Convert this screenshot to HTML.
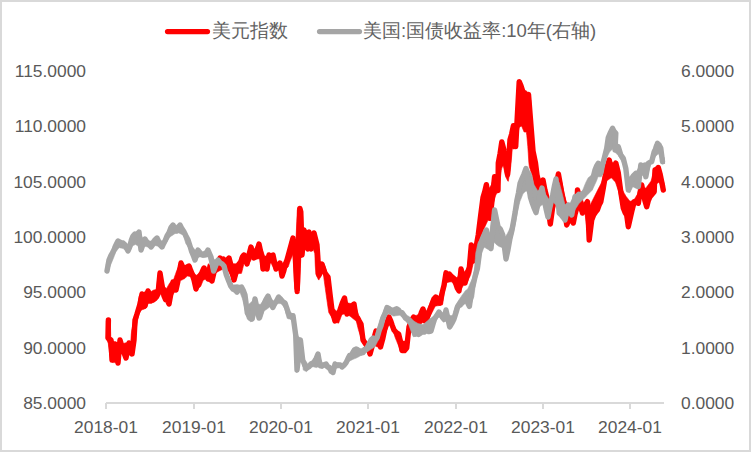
<!DOCTYPE html><html><head><meta charset="utf-8"><style>
html,body{margin:0;padding:0;background:#fff;}
#c{position:relative;width:751px;height:452px;overflow:hidden;font-family:"Liberation Sans", sans-serif;color:#595959;}
svg{position:absolute;left:0;top:0;}
.t{position:absolute;white-space:nowrap;font-size:17.4px;line-height:20px;}
.l{text-align:right;width:100px;}
.r{text-align:left;}
.x{text-align:center;width:100px;}
.lg{position:absolute;white-space:nowrap;font-size:18.5px;line-height:22px;color:#626262;}
</style></head><body><div id="c">
<svg width="751" height="452" viewBox="0 0 751 452"><rect x="1" y="1" width="749" height="450" fill="#fff" stroke="#d9d9d9" stroke-width="2"/><line x1="167.5" y1="31.6" x2="207.5" y2="31.6" stroke="#ff0000" stroke-width="5.2" stroke-linecap="round"/><line x1="319.5" y1="31.6" x2="359.5" y2="31.6" stroke="#a5a5a5" stroke-width="5.2" stroke-linecap="round"/><line x1="106" y1="403" x2="664" y2="403" stroke="#d9d9d9" stroke-width="2"/><line x1="106.00" y1="403" x2="106.00" y2="409" stroke="#d9d9d9" stroke-width="2"/><line x1="194.00" y1="403" x2="194.00" y2="409" stroke="#d9d9d9" stroke-width="2"/><line x1="281.00" y1="403" x2="281.00" y2="409" stroke="#d9d9d9" stroke-width="2"/><line x1="368.00" y1="403" x2="368.00" y2="409" stroke="#d9d9d9" stroke-width="2"/><line x1="456.00" y1="403" x2="456.00" y2="409" stroke="#d9d9d9" stroke-width="2"/><line x1="543.00" y1="403" x2="543.00" y2="409" stroke="#d9d9d9" stroke-width="2"/><line x1="630.00" y1="403" x2="630.00" y2="409" stroke="#d9d9d9" stroke-width="2"/><polygon points="106.3,320.8 106.8,320.4 107.3,319.9 107.8,319.5 108.3,319.1 108.8,319.5 109.3,319.9 109.8,320.3 110.3,320.6 110.8,337.8 111.3,338.5 111.8,339.1 112.3,339.8 112.8,340.4 113.3,341.1 113.8,341.6 114.3,342.1 114.8,342.6 115.3,343.1 115.8,343.6 116.3,343.3 116.8,343.0 117.3,342.6 117.8,342.3 118.3,342.0 118.8,341.6 119.3,341.3 119.8,340.9 120.3,340.6 120.8,340.4 121.3,341.1 121.8,341.8 122.3,342.4 122.8,343.1 123.3,343.6 123.8,343.4 124.3,343.2 124.8,343.1 125.3,342.9 125.8,342.8 126.3,342.8 126.8,342.8 127.3,342.8 127.8,342.8 128.3,342.8 128.8,342.8 129.3,342.8 129.8,342.8 130.3,342.8 130.8,341.3 131.3,334.1 131.8,329.7 132.3,327.3 132.8,324.9 133.3,322.4 133.8,319.8 134.3,317.2 134.8,314.6 135.3,313.4 135.8,312.3 136.3,311.1 136.8,310.0 137.3,308.8 137.8,305.3 138.3,301.7 138.8,298.2 139.3,295.9 139.8,295.4 140.3,294.9 140.8,294.4 141.3,293.9 141.8,293.5 142.3,293.2 142.8,292.9 143.3,292.6 143.8,292.3 144.3,292.0 144.8,291.7 145.3,291.4 145.8,291.1 146.3,290.8 146.8,290.4 147.3,290.1 147.8,289.7 148.3,289.4 148.8,289.9 149.3,290.4 149.8,291.0 150.3,291.5 150.8,291.8 151.3,291.5 151.8,291.2 152.3,290.8 152.8,290.5 153.3,290.2 153.8,290.1 154.3,289.9 154.8,289.8 155.3,289.7 155.8,289.6 156.3,289.4 156.8,286.8 157.3,282.4 157.8,278.0 158.3,274.4 158.8,274.1 159.3,273.8 159.8,273.4 160.3,273.1 160.8,273.2 161.3,275.2 161.8,277.1 162.3,279.1 162.8,281.2 163.3,283.2 163.8,285.3 164.3,286.4 164.8,286.9 165.3,287.4 165.8,287.9 166.3,288.4 166.8,288.1 167.3,287.2 167.8,286.3 168.3,285.4 168.8,284.6 169.3,283.7 169.8,282.8 170.3,282.5 170.8,282.3 171.3,282.0 171.8,281.8 172.3,281.5 172.8,281.3 173.3,280.5 173.8,279.1 174.3,277.6 174.8,276.1 175.3,274.7 175.8,273.2 176.3,271.8 176.8,270.5 177.3,269.4 177.8,268.2 178.3,267.1 178.8,266.0 179.3,264.8 179.8,263.7 180.3,263.5 180.8,263.4 181.3,263.2 181.8,263.1 182.3,262.9 182.8,263.6 183.3,264.2 183.8,264.9 184.3,265.5 184.8,266.2 185.3,266.1 185.8,266.0 186.3,265.8 186.8,265.7 187.3,265.6 187.8,265.5 188.3,265.5 188.8,265.8 189.3,266.2 189.8,266.5 190.3,266.8 190.8,267.4 191.3,268.2 191.8,269.1 192.3,270.0 192.8,270.9 193.3,271.7 193.8,272.6 194.3,273.2 194.8,273.7 195.3,274.2 195.8,274.7 196.3,275.2 196.8,275.0 197.3,274.6 197.8,274.2 198.3,273.9 198.8,273.5 199.3,273.1 199.8,272.7 200.3,272.1 200.8,271.5 201.3,270.9 201.8,270.4 202.3,269.8 202.8,269.2 203.3,268.6 203.8,269.1 204.3,269.6 204.8,270.1 205.3,270.6 205.8,271.1 206.3,269.6 206.8,268.1 207.3,266.7 207.8,265.2 208.3,263.7 208.8,264.1 209.3,264.6 209.8,265.0 210.3,265.5 210.8,265.9 211.3,266.3 211.8,266.8 212.3,267.2 212.8,266.6 213.3,265.8 213.8,265.0 214.3,264.1 214.8,263.3 215.3,262.5 215.8,261.6 216.3,261.0 216.8,260.6 217.3,260.1 217.8,259.7 218.3,259.2 218.8,258.8 219.3,258.3 219.8,257.9 220.3,258.1 220.8,258.5 221.3,258.9 221.8,259.2 222.3,259.6 222.8,260.0 223.3,260.2 223.8,260.0 224.3,259.7 224.8,259.4 225.3,259.1 225.8,258.8 226.3,258.5 226.8,258.3 227.3,258.0 227.8,257.7 228.3,257.4 228.8,257.1 229.3,257.6 229.8,258.6 230.3,259.6 230.8,260.5 231.3,261.5 231.8,262.5 232.3,263.5 232.8,263.7 233.3,263.7 233.8,263.7 234.3,263.7 234.8,263.7 235.3,263.7 235.8,263.7 236.3,263.6 236.8,263.5 237.3,263.4 237.8,263.4 238.3,263.0 238.8,261.6 239.3,260.1 239.8,258.7 240.3,257.3 240.8,255.8 241.3,254.4 241.8,254.1 242.3,253.8 242.8,253.6 243.3,253.3 243.8,253.0 244.3,253.1 244.8,253.5 245.3,253.9 245.8,254.3 246.3,254.6 246.8,255.0 247.3,255.4 247.8,254.3 248.3,253.1 248.8,252.0 249.3,250.9 249.8,249.7 250.3,248.6 250.8,248.0 251.3,248.3 251.8,248.5 252.3,248.8 252.8,249.0 253.3,249.3 253.8,249.5 254.3,249.0 254.8,248.3 255.3,247.6 255.8,246.9 256.3,246.2 256.8,245.5 257.3,244.8 257.8,244.1 258.3,244.0 258.8,244.7 259.3,245.4 259.8,246.1 260.3,246.9 260.8,247.6 261.3,248.3 261.8,249.0 262.3,249.9 262.8,251.2 263.3,252.5 263.8,253.8 264.3,255.1 264.8,256.2 265.3,256.1 265.8,255.9 266.3,255.8 266.8,255.7 267.3,255.6 267.8,255.4 268.3,255.4 268.8,255.4 269.3,255.4 269.8,255.4 270.3,255.4 270.8,255.4 271.3,255.4 271.8,255.4 272.3,255.4 272.8,255.4 273.3,256.2 273.8,257.6 274.3,259.0 274.8,260.4 275.3,261.2 275.8,261.4 276.3,261.7 276.8,261.9 277.3,262.2 277.8,262.4 278.3,262.7 278.8,262.9 279.3,263.1 279.8,263.3 280.3,263.5 280.8,263.7 281.3,263.9 281.8,264.1 282.3,264.3 282.8,263.7 283.3,263.0 283.8,262.3 284.3,261.6 284.8,260.8 285.3,260.1 285.8,259.4 286.3,257.7 286.8,256.1 287.3,254.4 287.8,252.8 288.3,251.1 288.8,248.7 289.3,246.3 289.8,243.8 290.3,241.4 290.8,239.5 291.3,239.3 291.8,239.1 292.3,238.9 292.8,238.7 293.3,238.9 293.8,240.4 294.3,241.9 294.8,243.4 295.3,244.9 295.8,243.9 296.3,232.6 296.8,221.4 297.3,210.1 297.8,207.8 298.3,207.6 298.8,207.5 299.3,207.3 299.8,207.1 300.3,207.8 300.8,208.6 301.3,209.5 301.8,210.3 302.3,211.1 302.8,219.6 303.3,227.9 303.8,228.2 304.3,228.5 304.8,228.9 305.3,229.2 305.8,229.6 306.3,230.1 306.8,230.6 307.3,231.1 307.8,231.6 308.3,232.1 308.8,232.3 309.3,232.6 309.8,232.8 310.3,233.1 310.8,233.3 311.3,233.6 311.8,233.7 312.3,233.7 312.8,233.7 313.3,233.7 313.8,233.7 314.3,234.4 314.8,235.6 315.3,236.7 315.8,237.9 316.3,239.0 316.8,241.1 317.3,243.7 317.8,246.2 318.3,249.6 318.8,254.3 319.3,258.9 319.8,263.5 320.3,263.3 320.8,263.2 321.3,263.0 321.8,262.9 322.3,262.7 322.8,263.4 323.3,264.0 323.8,264.7 324.3,265.3 324.8,266.0 325.3,267.7 325.8,269.3 326.3,271.0 326.8,272.6 327.3,274.3 327.8,276.9 328.3,280.9 328.8,284.8 329.3,288.8 329.8,292.8 330.3,295.1 330.8,297.5 331.3,299.8 331.8,302.2 332.3,304.5 332.8,306.9 333.3,308.5 333.8,308.8 334.3,309.2 334.8,309.6 335.3,310.0 335.8,310.4 336.3,310.8 336.8,311.2 337.3,311.5 337.8,311.2 338.3,310.5 338.8,309.7 339.3,309.0 339.8,308.2 340.3,307.4 340.8,306.7 341.3,305.9 341.8,305.2 342.3,303.7 342.8,302.0 343.3,300.3 343.8,298.6 344.3,297.5 344.8,298.3 345.3,299.1 345.8,300.0 346.3,300.8 346.8,301.6 347.3,302.5 347.8,302.9 348.3,303.0 348.8,303.1 349.3,303.2 349.8,303.3 350.3,303.4 350.8,303.5 351.3,303.6 351.8,303.7 352.3,303.8 352.8,303.9 353.3,304.3 353.8,305.0 354.3,305.6 354.8,306.3 355.3,307.0 355.8,307.6 356.3,308.3 356.8,309.8 357.3,311.3 357.8,312.7 358.3,314.2 358.8,315.7 359.3,317.2 359.8,318.6 360.3,320.1 360.8,321.6 361.3,324.6 361.8,327.6 362.3,330.7 362.8,333.7 363.3,335.5 363.8,336.5 364.3,337.5 364.8,338.5 365.3,339.5 365.8,340.5 366.3,341.5 366.8,341.8 367.3,342.0 367.8,342.2 368.3,342.5 368.8,342.4 369.3,342.0 369.8,341.6 370.3,341.2 370.8,340.9 371.3,340.5 371.8,340.1 372.3,339.8 372.8,339.4 373.3,338.2 373.8,336.9 374.3,335.6 374.8,334.2 375.3,332.9 375.8,331.6 376.3,330.4 376.8,329.7 377.3,329.0 377.8,328.4 378.3,327.7 378.8,327.1 379.3,326.4 379.8,325.9 380.3,325.6 380.8,325.3 381.3,325.0 381.8,324.7 382.3,324.4 382.8,324.1 383.3,323.8 383.8,323.5 384.3,323.2 384.8,322.9 385.3,322.4 385.8,321.7 386.3,321.0 386.8,320.3 387.3,319.5 387.8,318.8 388.3,318.1 388.8,317.4 389.3,317.2 389.8,317.9 390.3,318.5 390.8,319.1 391.3,319.7 391.8,320.4 392.3,321.0 392.8,322.2 393.3,323.6 393.8,325.0 394.3,326.4 394.8,327.8 395.3,329.2 395.8,330.6 396.3,332.0 396.8,332.9 397.3,333.1 397.8,333.4 398.3,333.6 398.8,333.9 399.3,334.1 399.8,334.4 400.3,335.5 400.8,336.8 401.3,338.2 401.8,339.5 402.3,340.8 402.8,341.1 403.3,341.1 403.8,341.1 404.3,341.1 404.8,341.1 405.3,341.1 405.8,340.6 406.3,338.4 406.8,336.1 407.3,333.8 407.8,331.6 408.3,329.3 408.8,327.0 409.3,325.4 409.8,324.4 410.3,323.3 410.8,322.2 411.3,321.1 411.8,320.0 412.3,318.9 412.8,317.9 413.3,316.9 413.8,316.7 414.3,316.4 414.8,316.2 415.3,315.9 415.8,315.7 416.3,315.4 416.8,315.2 417.3,314.9 417.8,314.7 418.3,314.2 418.8,313.6 419.3,312.9 419.8,312.3 420.3,311.6 420.8,310.9 421.3,310.3 421.8,309.6 422.3,309.0 422.8,308.3 423.3,308.1 423.8,308.6 424.3,309.1 424.8,309.6 425.3,310.1 425.8,310.6 426.3,311.1 426.8,310.3 427.3,309.3 427.8,308.2 428.3,307.1 428.8,306.0 429.3,304.9 429.8,303.9 430.3,302.8 430.8,301.7 431.3,300.6 431.8,299.6 432.3,298.7 432.8,298.5 433.3,298.4 433.8,298.2 434.3,298.0 434.8,297.9 435.3,297.7 435.8,297.6 436.3,298.0 436.8,298.7 437.3,299.5 437.8,300.3 438.3,301.0 438.8,300.7 439.3,298.6 439.8,296.5 440.3,294.4 440.8,292.4 441.3,290.3 441.8,288.2 442.3,286.1 442.8,284.1 443.3,282.2 443.8,280.3 444.3,278.4 444.8,276.5 445.3,274.6 445.8,272.7 446.3,272.6 446.8,273.0 447.3,273.3 447.8,273.7 448.3,274.1 448.8,274.3 449.3,274.4 449.8,274.5 450.3,274.6 450.8,274.7 451.3,274.8 451.8,274.9 452.3,275.4 452.8,276.0 453.3,276.7 453.8,277.3 454.3,277.9 454.8,278.2 455.3,278.0 455.8,277.8 456.3,277.6 456.8,277.4 457.3,277.2 457.8,276.9 458.3,275.7 458.8,274.2 459.3,272.7 459.8,271.3 460.3,269.8 460.8,268.7 461.3,269.3 461.8,269.8 462.3,270.3 462.8,270.9 463.3,271.4 463.8,272.0 464.3,272.0 464.8,271.3 465.3,270.7 465.8,270.0 466.3,269.3 466.8,268.6 467.3,267.9 467.8,264.6 468.3,260.6 468.8,256.7 469.3,252.7 469.8,248.7 470.3,247.3 470.8,246.5 471.3,245.7 471.8,245.8 472.3,246.5 472.8,247.1 473.3,247.8 473.8,248.4 474.3,247.9 474.8,246.7 475.3,245.4 475.8,244.2 476.3,242.9 476.8,241.7 477.3,240.4 477.8,239.2 478.3,238.1 478.8,236.9 479.3,235.8 479.8,234.6 480.3,227.0 480.8,219.4 481.3,212.6 481.8,206.8 482.3,201.1 482.8,195.3 483.3,193.5 483.8,191.7 484.3,189.9 484.8,188.1 485.3,186.3 485.8,184.5 486.3,185.5 486.8,186.5 487.3,187.5 487.8,188.5 488.3,189.5 488.8,188.7 489.3,188.0 489.8,187.2 490.3,186.5 490.8,185.7 491.3,185.0 491.8,183.8 492.3,182.2 492.8,180.5 493.3,178.9 493.8,177.2 494.3,176.3 494.8,176.7 495.3,177.0 495.8,177.3 496.3,177.7 496.8,172.6 497.3,163.9 497.8,161.7 498.3,159.4 498.8,157.2 499.3,154.3 499.8,151.1 500.3,147.8 500.8,144.5 501.3,143.1 501.8,142.8 502.3,142.5 502.8,142.3 503.3,142.0 503.8,144.4 504.3,147.5 504.8,150.5 505.3,153.6 505.8,156.6 506.3,154.3 506.8,152.0 507.3,149.7 507.8,147.4 508.3,145.1 508.8,142.8 509.3,140.5 509.8,138.4 510.3,136.4 510.8,134.3 511.3,132.3 511.8,130.3 512.3,128.2 512.8,126.2 513.3,124.9 513.8,124.6 514.3,124.4 514.8,124.1 515.3,123.8 515.8,118.7 516.3,110.5 516.8,102.2 517.3,94.0 517.8,85.7 518.3,82.3 518.8,82.0 519.3,81.8 519.8,81.5 520.3,81.3 520.8,82.6 521.3,84.4 521.8,86.2 522.3,87.9 522.8,89.7 523.3,89.9 523.8,90.0 524.3,90.2 524.8,90.3 525.3,90.5 525.8,90.7 526.3,90.8 526.8,91.3 527.3,92.1 527.8,92.8 528.3,93.6 528.8,94.3 529.3,95.8 529.8,97.4 530.3,99.0 530.8,100.7 531.3,110.3 531.8,125.3 532.3,140.3 532.8,149.7 533.3,150.7 533.8,151.7 534.3,152.8 534.8,153.8 535.3,156.3 535.8,159.9 536.3,163.4 536.8,166.9 537.3,170.5 537.8,172.3 538.3,173.7 538.8,175.2 539.3,176.6 539.8,178.0 540.3,179.4 540.8,180.8 541.3,180.7 541.8,180.6 542.3,180.6 542.8,180.5 543.3,180.4 543.8,182.0 544.3,183.7 544.8,185.3 545.3,187.0 545.8,188.6 546.3,190.2 546.8,191.7 547.3,193.2 547.8,194.7 548.3,196.2 548.8,197.7 549.3,199.2 549.8,200.7 550.3,199.8 550.8,197.4 551.3,194.9 551.8,192.5 552.3,190.0 552.8,187.6 553.3,185.1 553.8,182.7 554.3,180.8 554.8,179.8 555.3,178.8 555.8,177.8 556.3,176.8 556.8,175.8 557.3,174.8 557.8,174.7 558.3,174.9 558.8,175.0 559.3,175.2 559.8,175.4 560.3,176.9 560.8,178.8 561.3,180.7 561.8,182.5 562.3,184.6 562.8,186.9 563.3,189.1 563.8,191.4 564.3,193.6 564.8,195.9 565.3,198.1 565.8,200.4 566.3,201.7 566.8,202.3 567.3,202.9 567.8,203.5 568.3,204.2 568.8,204.8 569.3,205.4 569.8,206.0 570.3,205.6 570.8,204.3 571.3,203.1 571.8,201.9 572.3,200.6 572.8,199.4 573.3,198.2 573.8,197.0 574.3,195.7 574.8,194.5 575.3,193.7 575.8,192.8 576.3,192.0 576.8,191.1 577.3,190.3 577.8,190.6 578.3,191.0 578.8,191.3 579.3,191.7 579.8,192.0 580.3,193.5 580.8,194.9 581.3,196.4 581.8,197.8 582.3,199.3 582.8,200.7 583.3,202.0 583.8,203.3 584.3,204.5 584.8,205.8 585.3,207.0 585.8,208.3 586.3,209.5 586.8,210.8 587.3,210.7 587.8,209.7 588.3,208.7 588.8,207.7 589.3,206.7 589.8,205.7 590.3,204.7 590.8,203.7 591.3,202.7 591.8,201.7 592.3,200.7 592.8,199.7 593.3,198.7 593.8,197.7 594.3,196.7 594.8,195.7 595.3,194.8 595.8,193.8 596.3,192.8 596.8,191.8 597.3,190.8 597.8,189.8 598.3,188.8 598.8,187.8 599.3,186.9 599.8,185.9 600.3,184.9 600.8,183.9 601.3,182.9 601.8,181.3 602.3,179.4 602.8,177.6 603.3,175.8 603.8,174.0 604.3,172.2 604.8,170.5 605.3,169.2 605.8,167.8 606.3,166.4 606.8,165.0 607.3,163.6 607.8,162.3 608.3,160.9 608.8,159.5 609.3,160.0 609.8,160.5 610.3,161.0 610.8,161.5 611.3,162.0 611.8,162.2 612.3,162.5 612.8,162.7 613.3,163.0 613.8,163.2 614.3,163.5 614.8,164.2 615.3,165.7 615.8,167.2 616.3,168.7 616.8,170.2 617.3,171.8 617.8,173.4 618.3,175.1 618.8,176.7 619.3,178.4 619.8,180.1 620.3,181.9 620.8,183.6 621.3,185.4 621.8,187.1 622.3,188.9 622.8,190.6 623.3,191.7 623.8,192.5 624.3,193.4 624.8,194.2 625.3,195.1 625.8,196.0 626.3,196.7 626.8,197.3 627.3,197.9 627.8,198.5 628.3,199.2 628.8,199.8 629.3,200.4 629.8,201.0 630.3,201.2 630.8,201.1 631.3,200.9 631.8,200.8 632.3,200.7 632.8,200.5 633.3,200.4 633.8,200.1 634.3,199.3 634.8,198.5 635.3,197.7 635.8,196.9 636.3,196.1 636.8,195.3 637.3,194.5 637.8,193.7 638.3,191.7 638.8,189.7 639.3,187.7 639.8,185.7 640.3,183.7 640.8,184.9 641.3,186.0 641.8,187.2 642.3,188.3 642.8,189.5 643.3,189.2 643.8,189.0 644.3,188.7 644.8,188.4 645.3,188.1 645.8,187.9 646.3,187.4 646.8,186.8 647.3,186.1 647.8,185.4 648.3,184.8 648.8,184.1 649.3,183.4 649.8,182.7 650.3,182.1 650.8,181.4 651.3,180.2 651.8,178.2 652.3,176.2 652.8,174.2 653.3,172.2 653.8,170.2 654.3,168.2 654.8,167.6 655.3,167.4 655.8,167.2 656.3,167.0 656.8,166.8 657.3,166.6 657.8,166.4 658.3,166.2 658.8,166.8 659.3,168.5 659.8,170.2 660.3,172.0 660.8,173.7 661.3,175.2 661.8,176.6 662.3,178.0 662.8,179.4 663.3,180.7 663.8,182.4 664.3,184.2 664.6,185.3 664.6,186.7 664.3,186.9 663.8,187.3 663.3,187.6 662.8,188.0 662.3,188.3 661.8,188.3 661.3,187.0 660.8,185.7 660.3,184.4 659.8,183.1 659.3,182.1 658.8,182.4 658.3,182.7 657.8,183.0 657.3,183.3 656.8,183.8 656.3,184.8 655.8,185.8 655.3,186.8 654.8,187.9 654.3,188.9 653.8,189.9 653.3,190.9 652.8,191.9 652.3,193.1 651.8,194.3 651.3,195.6 650.8,196.8 650.3,198.0 649.8,199.2 649.3,200.5 648.8,201.8 648.3,203.1 647.8,204.5 647.3,205.8 646.8,206.8 646.3,206.3 645.8,205.8 645.3,205.2 644.8,204.7 644.3,203.9 643.8,202.5 643.3,201.2 642.8,199.8 642.3,198.4 641.8,197.1 641.3,195.7 640.8,196.0 640.3,197.4 639.8,198.8 639.3,200.2 638.8,201.6 638.3,202.2 637.8,202.6 637.3,202.9 636.8,203.3 636.3,203.7 635.8,204.0 635.3,204.4 634.8,205.8 634.3,207.2 633.8,208.5 633.3,209.9 632.8,211.3 632.3,212.7 631.8,214.4 631.3,216.7 630.8,219.1 630.3,221.4 629.8,223.7 629.3,225.1 628.8,225.1 628.3,225.1 627.8,225.1 627.3,225.1 626.8,224.2 626.3,221.9 625.8,219.5 625.3,217.2 624.8,214.9 624.3,212.9 623.8,211.4 623.3,209.9 622.8,208.3 622.3,206.8 621.8,205.3 621.3,203.8 620.8,201.6 620.3,199.3 619.8,197.0 619.3,194.7 618.8,192.4 618.3,190.7 617.8,189.2 617.3,187.7 616.8,186.2 616.3,184.7 615.8,183.2 615.3,181.9 614.8,181.4 614.3,180.9 613.8,180.4 613.3,179.8 612.8,179.3 612.3,178.8 611.8,178.3 611.3,177.8 610.8,178.1 610.3,178.5 609.8,178.8 609.3,179.1 608.8,179.4 608.3,179.8 607.8,180.1 607.3,180.4 606.8,180.8 606.3,181.1 605.8,182.6 605.3,184.1 604.8,185.6 604.3,187.1 603.8,188.6 603.3,191.3 602.8,193.9 602.3,196.6 601.8,199.2 601.3,201.9 600.8,202.5 600.3,203.1 599.8,203.7 599.3,204.3 598.8,204.9 598.3,205.5 597.8,206.1 597.3,206.7 596.8,208.3 596.3,210.1 595.8,211.9 595.3,213.7 594.8,215.5 594.3,217.3 593.8,219.2 593.3,221.0 592.8,223.1 592.3,225.4 591.8,227.8 591.3,230.1 590.8,232.5 590.3,233.2 589.8,233.0 589.3,232.7 588.8,232.5 588.3,232.2 587.8,232.0 587.3,231.7 586.8,227.7 586.3,223.7 585.8,219.8 585.3,215.8 584.8,211.8 584.3,212.1 583.8,212.5 583.3,212.8 582.8,213.2 582.3,213.5 581.8,213.1 581.3,212.6 580.8,212.2 580.3,211.8 579.8,211.3 579.3,210.9 578.8,210.5 578.3,210.1 577.8,209.6 577.3,209.2 576.8,208.8 576.3,209.7 575.8,212.7 575.3,215.7 574.8,218.6 574.3,221.6 573.8,223.3 573.3,223.1 572.8,222.9 572.3,222.7 571.8,222.5 571.3,222.3 570.8,222.1 570.3,221.9 569.8,221.7 569.3,222.5 568.8,223.2 568.3,224.0 567.8,224.7 567.3,225.5 566.8,226.2 566.3,225.7 565.8,223.1 565.3,220.6 564.8,218.0 564.3,215.5 563.8,212.9 563.3,210.3 562.8,207.8 562.3,205.2 561.8,203.7 561.3,203.7 560.8,203.7 560.3,203.7 559.8,203.7 559.3,203.7 558.8,203.7 558.3,203.7 557.8,203.7 557.3,203.7 556.8,203.7 556.3,203.7 555.8,204.4 555.3,206.0 554.8,207.7 554.3,209.4 553.8,211.1 553.3,212.7 552.8,214.4 552.3,216.1 551.8,217.7 551.3,219.6 550.8,221.6 550.3,223.5 549.8,224.8 549.3,223.1 548.8,221.4 548.3,219.7 547.8,218.1 547.3,216.4 546.8,214.7 546.3,213.1 545.8,211.4 545.3,209.7 544.8,207.9 544.3,206.0 543.8,204.1 543.3,202.2 542.8,200.3 542.3,198.4 541.8,196.5 541.3,194.6 540.8,192.7 540.3,190.8 539.8,188.9 539.3,189.4 538.8,190.5 538.3,191.7 537.8,192.8 537.3,193.7 536.8,193.6 536.3,193.6 535.8,193.6 535.3,193.5 534.8,192.1 534.3,188.6 533.8,185.1 533.3,181.6 532.8,178.1 532.3,175.8 531.8,174.3 531.3,172.7 530.8,171.2 530.3,169.7 529.8,168.1 529.3,166.6 528.8,162.3 528.3,153.8 527.8,146.5 527.3,141.0 526.8,135.4 526.3,132.1 525.8,132.1 525.3,132.1 524.8,132.1 524.3,132.1 523.8,131.4 523.3,130.1 522.8,128.9 522.3,127.7 521.8,126.5 521.3,126.2 520.8,126.4 520.3,126.7 519.8,126.9 519.3,127.2 518.8,129.2 518.3,131.8 517.8,134.3 517.3,136.9 516.8,139.4 516.3,141.3 515.8,143.3 515.3,145.2 514.8,147.2 514.3,149.1 513.8,149.0 513.3,148.9 512.8,148.8 512.3,148.7 511.8,154.4 511.3,160.1 510.8,165.9 510.3,169.4 509.8,172.4 509.3,175.3 508.8,178.3 508.3,181.3 507.8,181.1 507.3,180.1 506.8,179.1 506.3,178.1 505.8,177.1 505.3,175.0 504.8,172.7 504.3,170.4 503.8,168.1 503.3,165.8 502.8,166.1 502.3,167.0 501.8,168.0 501.3,170.3 500.8,174.6 500.3,179.0 499.8,183.3 499.3,187.6 498.8,190.5 498.3,191.3 497.8,192.0 497.3,192.8 496.8,193.5 496.3,194.3 495.8,195.0 495.3,196.5 494.8,198.2 494.3,199.9 493.8,201.5 493.3,203.2 492.8,206.0 492.3,208.7 491.8,211.5 491.3,214.3 490.8,217.1 490.3,219.8 489.8,220.3 489.3,220.2 488.8,220.1 488.3,220.0 487.8,220.6 487.3,221.7 486.8,222.8 486.3,223.8 485.8,224.9 485.3,225.9 484.8,227.0 484.3,228.1 483.8,229.3 483.3,230.6 482.8,232.0 482.3,233.4 481.8,234.8 481.3,236.2 480.8,237.4 480.3,238.6 479.8,239.8 479.3,241.0 478.8,242.2 478.3,243.4 477.8,244.7 477.3,246.0 476.8,247.3 476.3,248.7 475.8,250.0 475.3,251.4 474.8,252.7 474.3,256.1 473.8,259.4 473.3,262.8 472.8,265.3 472.3,267.5 471.8,269.8 471.3,272.0 470.8,274.3 470.3,275.6 469.8,276.7 469.3,277.7 468.8,278.8 468.3,279.9 467.8,281.0 467.3,282.1 466.8,282.4 466.3,282.7 465.8,283.1 465.3,283.4 464.8,283.7 464.3,284.0 463.8,284.6 463.3,285.5 462.8,286.5 462.3,287.4 461.8,288.4 461.3,289.4 460.8,290.3 460.3,290.9 459.8,291.2 459.3,291.5 458.8,291.8 458.3,292.1 457.8,291.6 457.3,290.5 456.8,289.4 456.3,288.4 455.8,287.3 455.3,286.3 454.8,285.2 454.3,284.7 453.8,284.2 453.3,283.7 452.8,283.1 452.3,282.6 451.8,282.1 451.3,281.7 450.8,281.8 450.3,281.9 449.8,282.0 449.3,282.1 448.8,282.2 448.3,282.3 447.8,282.4 447.3,282.6 446.8,282.7 446.3,283.8 445.8,285.7 445.3,287.6 444.8,289.5 444.3,292.5 443.8,296.1 443.3,299.8 442.8,303.4 442.3,305.0 441.8,305.0 441.3,305.1 440.8,305.2 440.3,305.3 439.8,305.4 439.3,305.5 438.8,305.6 438.3,305.7 437.8,305.8 437.3,305.8 436.8,305.9 436.3,306.0 435.8,306.1 435.3,306.2 434.8,307.2 434.3,308.1 433.8,309.1 433.3,310.1 432.8,311.1 432.3,312.0 431.8,313.0 431.3,314.0 430.8,315.0 430.3,315.9 429.8,316.9 429.3,317.7 428.8,318.5 428.3,319.3 427.8,320.0 427.3,320.8 426.8,321.6 426.3,322.4 425.8,323.2 425.3,323.4 424.8,323.3 424.3,323.2 423.8,323.1 423.3,322.9 422.8,322.8 422.3,322.7 421.8,323.2 421.3,323.7 420.8,324.2 420.3,324.7 419.8,325.2 419.3,325.7 418.8,326.2 418.3,326.7 417.8,327.2 417.3,327.7 416.8,328.1 416.3,328.5 415.8,328.9 415.3,329.2 414.8,329.6 414.3,330.0 413.8,330.4 413.3,330.8 412.8,331.2 412.3,331.6 411.8,332.0 411.3,332.3 410.8,332.7 410.3,333.1 409.8,333.5 409.3,336.6 408.8,339.7 408.3,342.8 407.8,345.9 407.3,348.5 406.8,348.9 406.3,349.3 405.8,349.7 405.3,350.0 404.8,350.4 404.3,350.8 403.8,351.2 403.3,351.6 402.8,351.4 402.3,351.0 401.8,350.6 401.3,350.3 400.8,349.9 400.3,349.5 399.8,349.0 399.3,347.7 398.8,346.5 398.3,345.2 397.8,344.0 397.3,342.8 396.8,341.5 396.3,340.3 395.8,339.0 395.3,337.8 394.8,336.4 394.3,334.7 393.8,332.9 393.3,331.2 392.8,329.4 392.3,327.7 391.8,325.9 391.3,325.2 390.8,325.2 390.3,325.2 389.8,325.2 389.3,325.2 388.8,325.2 388.3,325.2 387.8,326.7 387.3,328.2 386.8,329.7 386.3,331.2 385.8,332.7 385.3,334.2 384.8,335.8 384.3,337.7 383.8,339.5 383.3,341.3 382.8,343.2 382.3,345.0 381.8,346.9 381.3,347.5 380.8,347.5 380.3,347.4 379.8,347.3 379.3,347.2 378.8,347.1 378.3,347.0 377.8,346.9 377.3,346.8 376.8,346.7 376.3,346.5 375.8,346.3 375.3,346.1 374.8,345.9 374.3,345.7 373.8,346.0 373.3,347.0 372.8,348.0 372.3,349.0 371.8,350.0 371.3,351.0 370.8,352.0 370.3,353.0 369.8,354.0 369.3,354.1 368.8,353.6 368.3,353.1 367.8,352.6 367.3,352.0 366.8,351.0 366.3,350.0 365.8,349.0 365.3,348.0 364.8,346.9 364.3,345.9 363.8,344.9 363.3,343.9 362.8,342.7 362.3,341.2 361.8,339.8 361.3,338.3 360.8,336.8 360.3,335.4 359.8,333.9 359.3,332.4 358.8,331.0 358.3,329.3 357.8,327.3 357.3,325.2 356.8,323.2 356.3,321.2 355.8,320.8 355.3,320.4 354.8,320.0 354.3,319.6 353.8,319.2 353.3,318.8 352.8,318.4 352.3,318.0 351.8,317.6 351.3,317.2 350.8,316.8 350.3,316.4 349.8,316.1 349.3,315.7 348.8,315.3 348.3,314.9 347.8,314.6 347.3,314.2 346.8,313.8 346.3,313.5 345.8,313.6 345.3,313.8 344.8,313.9 344.3,314.0 343.8,314.1 343.3,314.3 342.8,314.4 342.3,314.5 341.8,314.9 341.3,316.2 340.8,317.5 340.3,318.9 339.8,320.2 339.3,321.5 338.8,322.9 338.3,323.2 337.8,323.0 337.3,322.8 336.8,322.5 336.3,322.2 335.8,322.0 335.3,321.8 334.8,321.5 334.3,321.2 333.8,320.6 333.3,319.8 332.8,319.0 332.3,318.2 331.8,317.4 331.3,316.6 330.8,315.8 330.3,315.0 329.8,314.2 329.3,313.4 328.8,312.6 328.3,309.6 327.8,306.2 327.3,302.7 326.8,299.2 326.3,295.8 325.8,292.2 325.3,288.6 324.8,284.9 324.3,281.3 323.8,277.6 323.3,274.0 322.8,273.0 322.3,273.9 321.8,274.8 321.3,275.7 320.8,276.6 320.3,277.5 319.8,278.3 319.3,279.2 318.8,280.1 318.3,279.4 317.8,278.4 317.3,277.3 316.8,276.3 316.3,275.2 315.8,274.1 315.3,266.1 314.8,253.5 314.3,252.2 313.8,250.8 313.3,249.5 312.8,248.1 312.3,246.8 311.8,247.1 311.3,247.5 310.8,247.8 310.3,248.2 309.8,248.5 309.3,248.7 308.8,248.8 308.3,249.0 307.8,249.1 307.3,249.3 306.8,249.5 306.3,249.6 305.8,249.8 305.3,249.9 304.8,250.1 304.3,251.7 303.8,253.2 303.3,254.8 302.8,255.6 302.3,256.3 301.8,256.9 301.3,257.6 300.8,258.3 300.3,268.5 299.8,281.1 299.3,289.1 298.8,290.1 298.3,291.2 297.8,292.2 297.3,293.2 296.8,292.4 296.3,291.5 295.8,290.7 295.3,289.9 294.8,289.0 294.3,281.2 293.8,268.6 293.3,256.0 292.8,254.5 292.3,255.7 291.8,257.0 291.3,258.2 290.8,259.5 290.3,260.7 289.8,262.0 289.3,263.6 288.8,265.1 288.3,266.7 287.8,267.2 287.3,267.7 286.8,268.2 286.3,268.6 285.8,269.1 285.3,269.6 284.8,270.0 284.3,270.2 283.8,270.5 283.3,270.7 282.8,270.9 282.3,271.1 281.8,271.3 281.3,271.5 280.8,271.7 280.3,271.3 279.8,270.9 279.3,270.5 278.8,270.1 278.3,269.7 277.8,269.3 277.3,268.9 276.8,268.6 276.3,268.4 275.8,268.4 275.3,268.4 274.8,268.5 274.3,268.5 273.8,268.5 273.3,267.5 272.8,266.5 272.3,265.5 271.8,264.5 271.3,263.5 270.8,263.3 270.3,263.0 269.8,262.8 269.3,262.5 268.8,262.3 268.3,262.0 267.8,262.5 267.3,264.0 266.8,265.5 266.3,266.9 265.8,268.4 265.3,269.3 264.8,269.2 264.3,269.1 263.8,269.0 263.3,268.9 262.8,268.8 262.3,268.7 261.8,268.6 261.3,267.9 260.8,265.0 260.3,262.1 259.8,259.2 259.3,258.7 258.8,258.8 258.3,258.9 257.8,259.0 257.3,259.1 256.8,259.2 256.3,259.3 255.8,259.4 255.3,259.2 254.8,259.0 254.3,258.7 253.8,258.5 253.3,258.2 252.8,258.0 252.3,257.7 251.8,258.6 251.3,259.5 250.8,260.4 250.3,261.3 249.8,262.2 249.3,263.1 248.8,263.9 248.3,264.8 247.8,265.1 247.3,264.9 246.8,264.7 246.3,264.5 245.8,264.2 245.3,264.0 244.8,263.8 244.3,263.6 243.8,264.3 243.3,266.3 242.8,268.3 242.3,270.3 241.8,272.3 241.3,273.5 240.8,273.5 240.3,273.5 239.8,273.5 239.3,273.5 238.8,273.5 238.3,273.5 237.8,274.3 237.3,275.3 236.8,276.3 236.3,277.3 235.8,278.2 235.3,279.2 234.8,280.2 234.3,281.2 233.8,281.4 233.3,280.5 232.8,279.6 232.3,278.7 231.8,277.7 231.3,276.8 230.8,275.9 230.3,275.0 229.8,274.0 229.3,273.1 228.8,272.2 228.3,271.3 227.8,270.6 227.3,270.3 226.8,270.1 226.3,269.8 225.8,269.6 225.3,269.3 224.8,269.1 224.3,268.8 223.8,268.8 223.3,269.0 222.8,269.3 222.3,269.5 221.8,269.7 221.3,270.0 220.8,270.2 220.3,270.4 219.8,270.7 219.3,270.9 218.8,271.2 218.3,271.5 217.8,271.8 217.3,272.1 216.8,272.4 216.3,272.7 215.8,273.0 215.3,273.3 214.8,273.8 214.3,275.5 213.8,277.2 213.3,278.8 212.8,280.5 212.3,281.7 211.8,281.4 211.3,281.1 210.8,280.7 210.3,280.4 209.8,280.0 209.3,279.7 208.8,279.4 208.3,279.0 207.8,278.7 207.3,278.6 206.8,278.8 206.3,279.0 205.8,279.1 205.3,279.3 204.8,279.5 204.3,279.7 203.8,279.9 203.3,280.1 202.8,281.3 202.3,282.5 201.8,283.7 201.3,284.9 200.8,286.1 200.3,286.9 199.8,287.3 199.3,287.6 198.8,288.0 198.3,288.3 197.8,288.6 197.3,288.9 196.8,289.3 196.3,289.6 195.8,289.9 195.3,289.1 194.8,286.5 194.3,283.9 193.8,281.6 193.3,280.6 192.8,279.6 192.3,278.7 191.8,277.7 191.3,276.9 190.8,276.8 190.3,276.7 189.8,276.6 189.3,276.4 188.8,276.3 188.3,276.2 187.8,276.1 187.3,276.0 186.8,276.4 186.3,276.9 185.8,277.5 185.3,278.0 184.8,278.5 184.3,278.8 183.8,279.0 183.3,279.2 182.8,279.5 182.3,279.8 181.8,280.0 181.3,280.2 180.8,280.2 180.3,280.2 179.8,280.2 179.3,280.2 178.8,280.2 178.3,280.2 177.8,281.3 177.3,283.0 176.8,284.8 176.3,286.5 175.8,288.3 175.3,290.0 174.8,291.8 174.3,292.5 173.8,293.3 173.3,294.0 172.8,294.8 172.3,295.5 171.8,296.3 171.3,297.3 170.8,298.8 170.3,300.3 169.8,301.8 169.3,303.3 168.8,303.8 168.3,303.0 167.8,302.1 167.3,301.2 166.8,300.3 166.3,299.5 165.8,298.6 165.3,298.1 164.8,297.8 164.3,297.4 163.8,297.1 163.3,296.8 162.8,296.2 162.3,295.5 161.8,294.9 161.3,294.3 160.8,293.6 160.3,294.0 159.8,294.7 159.3,295.3 158.8,295.9 158.3,296.6 157.8,297.2 157.3,297.8 156.8,298.5 156.3,299.1 155.8,299.8 155.3,300.4 154.8,301.0 154.3,301.4 153.8,301.7 153.3,302.1 152.8,302.5 152.3,302.9 151.8,303.2 151.3,303.4 150.8,303.4 150.3,303.4 149.8,303.4 149.3,303.4 148.8,303.4 148.3,303.4 147.8,304.4 147.3,305.4 146.8,306.4 146.3,307.4 145.8,308.4 145.3,308.6 144.8,308.8 144.3,309.0 143.8,309.2 143.3,309.4 142.8,309.5 142.3,309.7 141.8,309.9 141.3,310.4 140.8,311.1 140.3,311.8 139.8,312.6 139.3,313.3 138.8,314.6 138.3,317.0 137.8,319.3 137.3,321.9 136.8,325.1 136.3,328.2 135.8,331.3 135.3,335.8 134.8,340.7 134.3,345.6 133.8,349.2 133.3,351.0 132.8,352.8 132.3,354.3 131.8,354.4 131.3,354.6 130.8,354.7 130.3,354.8 129.8,354.9 129.3,355.0 128.8,355.4 128.3,356.0 127.8,356.7 127.3,357.3 126.8,358.0 126.3,358.0 125.8,357.0 125.3,356.0 124.8,355.1 124.3,354.1 123.8,353.5 123.3,353.5 122.8,353.5 122.3,353.5 121.8,353.5 121.3,353.5 120.8,353.5 120.3,355.4 119.8,357.8 119.3,360.3 118.8,361.9 118.3,362.4 117.8,363.0 117.3,363.3 116.8,363.1 116.3,362.8 115.8,362.6 115.3,362.6 114.8,362.6 114.3,362.6 113.8,362.6 113.3,362.6 112.8,362.6 112.3,362.4 111.8,361.1 111.3,359.9 110.8,358.7 110.3,357.4 109.8,355.1 109.3,351.3 108.8,347.4 108.3,343.5 107.8,342.2 107.3,341.0 106.8,339.8 106.3,338.5" fill="#ff0000" stroke="#ff0000" stroke-width="0.6" stroke-linejoin="round"/><polyline points="108.4,320.0 108.0,338.0 111.0,340.0 112.0,360.0 115.0,344.0 118.0,363.0 120.0,340.0 123.0,350.0 126.0,358.0 129.0,343.0 132.0,354.0 134.0,340.0 135.0,320.0 137.0,314.0 140.0,304.0 142.0,294.0 145.0,306.0 148.0,291.0 149.7,294.3 151.3,297.7 153.0,300.0 154.7,298.8 156.3,297.2 158.0,294.0 160.0,273.0 162.0,285.2 164.0,296.0 165.7,299.8 167.3,300.0 169.0,304.0 171.0,292.9 173.0,282.0 176.0,290.0 177.7,282.2 179.3,272.4 181.0,263.0 183.0,267.6 185.0,270.0 187.0,266.9 189.0,266.0 190.7,270.6 192.3,274.6 194.0,280.0 196.0,289.0 198.0,282.6 200.0,276.0 202.0,272.2 204.0,268.0 206.0,272.1 208.0,279.0 210.0,279.2 212.0,281.0 215.0,268.0 216.7,264.0 218.3,262.5 220.0,258.0 221.7,259.7 223.3,259.0 225.0,261.0 227.0,260.3 229.0,258.0 230.7,264.3 232.3,273.0 234.0,280.0 235.7,273.6 237.3,267.9 239.0,264.0 240.7,262.0 242.3,257.2 244.0,255.0 247.0,264.0 249.0,254.7 251.0,247.0 254.0,258.0 255.7,254.7 257.3,249.7 259.0,244.0 262.0,258.0 263.0,269.0 265.0,268.4 267.0,269.0 269.0,255.0 271.0,256.3 273.0,255.0 276.0,269.0 278.0,266.1 280.0,263.0 282.0,276.0 283.7,271.2 285.3,264.5 287.0,260.0 290.0,249.0 293.0,238.0 295.0,252.0 297.2,291.5 299.9,208.5 300.8,212.0 302.0,255.0 304.0,230.0 306.0,240.7 308.0,249.0 309.0,232.0 311.0,249.0 314.0,233.0 317.0,245.0 319.0,275.0 322.0,264.0 325.0,273.0 328.0,277.0 330.0,294.0 332.0,310.0 335.0,321.0 336.7,318.6 338.3,314.8 340.0,310.0 342.2,303.4 344.5,298.0 347.0,314.0 348.8,311.1 350.5,308.1 352.2,305.5 354.0,304.0 356.0,317.0 357.7,318.1 359.3,321.1 361.0,324.0 363.0,340.0 364.8,342.8 366.6,345.0 368.3,348.1 370.0,354.0 372.0,346.8 374.0,338.2 376.0,331.0 378.2,338.5 380.5,347.0 382.6,339.4 384.6,330.0 386.8,323.4 389.0,317.0 390.7,320.8 392.3,325.6 394.0,330.0 396.3,332.6 398.6,334.0 400.3,341.0 402.0,350.5 404.4,350.6 406.7,348.0 409.0,327.0 411.4,320.7 413.7,317.0 415.9,321.2 418.0,324.0 419.7,320.0 421.3,312.7 423.0,309.0 424.7,315.3 426.4,320.0 428.3,314.3 430.1,309.6 432.0,304.0 433.9,299.1 435.7,297.0 437.9,298.7 440.0,303.0 442.0,293.4 444.0,285.5 446.0,272.8 447.7,275.1 449.3,274.1 451.0,276.0 454.0,278.6 455.7,283.4 457.3,288.1 459.0,291.0 461.0,269.0 463.0,277.2 465.0,283.0 467.2,274.6 469.4,267.0 471.3,245.0 473.0,261.0 474.8,254.0 476.6,243.9 478.3,234.7 480.6,216.2 483.0,197.5 484.7,191.9 486.4,184.7 488.2,200.5 490.0,218.4 492.3,198.2 494.6,176.6 496.3,184.4 498.0,190.5 498.3,163.0 500.1,153.5 501.8,142.0 503.6,148.7 505.3,158.0 507.6,174.5 510.0,139.7 511.7,133.9 513.4,125.7 515.7,146.6 517.5,113.0 519.2,81.6 521.0,85.9 522.7,91.0 524.5,109.8 526.2,128.0 528.5,94.4 530.8,123.4 533.0,151.0 535.5,163.0 537.0,175.0 540.0,188.0 543.0,180.0 544.9,189.9 546.8,197.5 548.5,210.3 550.3,224.0 552.0,211.9 553.8,197.5 556.1,185.9 558.4,174.0 560.2,184.0 562.0,195.0 564.0,203.0 566.7,225.0 568.4,221.0 570.0,218.0 571.6,219.6 573.3,223.0 575.0,214.3 576.7,208.0 577.5,190.0 579.2,196.7 580.8,205.9 582.5,213.0 584.2,210.6 585.8,204.5 587.5,201.7 589.2,240.0 591.7,220.0 593.8,214.6 595.8,211.7 597.5,209.7 599.1,205.1 600.8,201.7 603.3,188.0 605.0,177.7 606.7,168.0 609.2,160.0 610.9,166.8 612.5,175.0 614.1,169.3 615.8,163.0 618.3,173.0 620.8,192.0 623.3,208.0 625.0,212.4 626.7,215.0 628.3,226.7 630.0,219.1 631.7,211.7 634.2,201.7 636.2,202.3 638.3,203.3 640.0,192.9 641.7,185.0 643.3,193.0 645.0,201.0 646.7,206.7 648.4,200.4 650.0,196.7 652.1,194.2 654.2,191.7 655.0,170.0 656.6,169.7 658.3,167.5 660.0,173.6 661.7,181.7 663.3,190.0" fill="none" stroke="#ff0000" stroke-width="5.4" stroke-linejoin="round" stroke-linecap="round"/><polygon points="106.3,264.4 106.8,263.4 107.3,262.4 107.8,261.3 108.3,260.3 108.8,258.9 109.3,257.5 109.8,256.1 110.3,254.7 110.8,253.3 111.3,251.9 111.8,250.4 112.3,248.7 112.8,247.0 113.3,245.3 113.8,244.7 114.3,244.1 114.8,243.5 115.3,242.9 115.8,242.3 116.3,241.6 116.8,241.0 117.3,240.4 117.8,240.5 118.3,240.8 118.8,241.0 119.3,241.3 119.8,241.5 120.3,241.8 120.8,242.0 121.3,242.1 121.8,242.3 122.3,242.4 122.8,242.5 123.3,242.6 123.8,242.7 124.3,243.0 124.8,243.3 125.3,243.7 125.8,244.1 126.3,244.5 126.8,244.8 127.3,245.2 127.8,244.5 128.3,243.5 128.8,242.5 129.3,241.5 129.8,240.5 130.3,239.5 130.8,238.5 131.3,237.6 131.8,236.6 132.3,235.6 132.8,235.3 133.3,235.2 133.8,235.0 134.3,234.9 134.8,234.7 135.3,234.6 135.8,234.4 136.3,233.7 136.8,233.0 137.3,232.4 137.8,231.7 138.3,231.3 138.8,232.0 139.3,232.7 139.8,233.3 140.3,234.0 140.8,234.7 141.3,235.6 141.8,236.4 142.3,237.3 142.8,238.2 143.3,238.7 143.8,238.9 144.3,239.0 144.8,239.1 145.3,239.2 145.8,239.3 146.3,239.5 146.8,239.6 147.3,239.8 147.8,240.0 148.3,240.2 148.8,240.5 149.3,240.7 149.8,240.9 150.3,241.1 150.8,241.0 151.3,240.5 151.8,240.0 152.3,239.4 152.8,238.9 153.3,238.4 153.8,237.9 154.3,237.7 154.8,237.6 155.3,237.5 155.8,237.3 156.3,237.2 156.8,237.1 157.3,237.1 157.8,237.8 158.3,238.5 158.8,239.1 159.3,239.8 159.8,240.3 160.3,240.5 160.8,240.6 161.3,240.7 161.8,240.9 162.3,241.0 162.8,241.1 163.3,240.6 163.8,239.6 164.3,238.6 164.8,237.7 165.3,236.7 165.8,235.7 166.3,234.7 166.8,233.9 167.3,233.2 167.8,232.4 168.3,231.7 168.8,230.9 169.3,230.2 169.8,229.4 170.3,228.3 170.8,227.3 171.3,226.2 171.8,225.2 172.3,224.1 172.8,223.9 173.3,224.1 173.8,224.4 174.3,224.6 174.8,224.9 175.3,225.1 175.8,225.4 176.3,225.2 176.8,225.0 177.3,224.8 177.8,224.6 178.3,224.4 178.8,224.2 179.3,224.0 179.8,223.8 180.3,224.2 180.8,225.1 181.3,226.0 181.8,226.9 182.3,227.7 182.8,228.8 183.3,229.9 183.8,230.9 184.3,232.0 184.8,233.1 185.3,234.2 185.8,235.3 186.3,236.6 186.8,238.0 187.3,239.3 187.8,240.7 188.3,242.0 188.8,242.6 189.3,243.2 189.8,243.9 190.3,244.5 190.8,245.1 191.3,245.7 191.8,246.3 192.3,246.8 192.8,247.3 193.3,247.8 193.8,248.4 194.3,248.9 194.8,249.4 195.3,249.9 195.8,250.2 196.3,249.9 196.8,249.6 197.3,249.2 197.8,248.9 198.3,248.7 198.8,249.1 199.3,249.5 199.8,249.9 200.3,250.3 200.8,250.6 201.3,251.0 201.8,251.4 202.3,251.8 202.8,251.7 203.3,251.5 203.8,251.4 204.3,251.2 204.8,251.0 205.3,250.8 205.8,250.6 206.3,250.4 206.8,250.5 207.3,250.9 207.8,251.3 208.3,251.7 208.8,252.0 209.3,252.4 209.8,252.8 210.3,254.3 210.8,255.8 211.3,257.3 211.8,258.8 212.3,259.4 212.8,259.4 213.3,259.4 213.8,259.4 214.3,259.4 214.8,259.4 215.3,259.4 215.8,259.4 216.3,259.4 216.8,259.4 217.3,259.4 217.8,259.4 218.3,259.4 218.8,259.4 219.3,259.4 219.8,259.4 220.3,259.9 220.8,260.4 221.3,260.9 221.8,261.4 222.3,261.9 222.8,262.4 223.3,263.1 223.8,264.1 224.3,265.2 224.8,266.2 225.3,267.2 225.8,268.2 226.3,269.3 226.8,270.3 227.3,271.7 227.8,273.1 228.3,274.6 228.8,276.0 229.3,277.4 229.8,278.5 230.3,279.4 230.8,280.4 231.3,281.3 231.8,282.2 232.3,283.2 232.8,284.1 233.3,284.9 233.8,284.9 234.3,284.8 234.8,284.8 235.3,284.8 235.8,284.7 236.3,284.7 236.8,284.6 237.3,284.6 237.8,284.7 238.3,284.8 238.8,284.9 239.3,285.0 239.8,285.2 240.3,285.3 240.8,285.4 241.3,285.9 241.8,286.4 242.3,286.9 242.8,287.4 243.3,287.9 243.8,288.8 244.3,290.1 244.8,291.3 245.3,292.6 245.8,294.5 246.3,297.5 246.8,300.5 247.3,303.5 247.8,305.1 248.3,304.7 248.8,304.2 249.3,303.8 249.8,303.4 250.3,302.9 250.8,302.5 251.3,302.0 251.8,301.6 252.3,301.2 252.8,300.7 253.3,300.4 253.8,300.1 254.3,299.8 254.8,299.5 255.3,299.5 255.8,300.4 256.3,301.3 256.8,302.2 257.3,303.1 257.8,303.9 258.3,304.3 258.8,304.3 259.3,304.3 259.8,304.3 260.3,304.3 260.8,304.2 261.3,303.4 261.8,302.7 262.3,302.0 262.8,301.2 263.3,300.5 263.8,299.8 264.3,299.1 264.8,298.5 265.3,297.9 265.8,297.3 266.3,296.6 266.8,296.0 267.3,295.4 267.8,295.9 268.3,296.4 268.8,296.9 269.3,297.4 269.8,297.9 270.3,298.4 270.8,298.9 271.3,299.2 271.8,299.6 272.3,300.0 272.8,300.4 273.3,300.7 273.8,301.1 274.3,300.7 274.8,300.1 275.3,299.5 275.8,298.9 276.3,298.3 276.8,297.7 277.3,297.2 277.8,296.6 278.3,296.3 278.8,296.5 279.3,296.7 279.8,296.9 280.3,297.1 280.8,297.3 281.3,297.5 281.8,297.7 282.3,298.0 282.8,298.5 283.3,299.0 283.8,299.5 284.3,300.0 284.8,300.4 285.3,300.9 285.8,301.4 286.3,301.9 286.8,303.5 287.3,305.3 287.8,307.1 288.3,308.9 288.8,310.7 289.3,311.4 289.8,311.8 290.3,312.2 290.8,312.5 291.3,312.9 291.8,313.3 292.3,313.8 292.8,314.6 293.3,315.4 293.8,316.3 294.3,317.1 294.8,318.5 295.3,322.2 295.8,325.8 296.3,329.4 296.8,331.3 297.3,333.3 297.8,335.2 298.3,336.3 298.8,336.7 299.3,337.2 299.8,337.6 300.3,339.1 300.8,341.2 301.3,343.2 301.8,348.2 302.3,357.5 302.8,359.6 303.3,359.9 303.8,360.1 304.3,360.4 304.8,360.6 305.3,360.9 305.8,361.1 306.3,361.9 306.8,362.6 307.3,363.4 307.8,364.1 308.3,364.9 308.8,365.6 309.3,365.9 309.8,365.4 310.3,364.9 310.8,364.3 311.3,363.8 311.8,363.3 312.3,362.8 312.8,362.3 313.3,361.8 313.8,361.3 314.3,360.8 314.8,360.3 315.3,359.8 315.8,359.1 316.3,357.8 316.8,356.5 317.3,355.2 317.8,353.9 318.3,353.1 318.8,354.6 319.3,356.0 319.8,357.5 320.3,358.6 320.8,359.6 321.3,360.6 321.8,361.6 322.3,362.6 322.8,363.6 323.3,364.4 323.8,364.6 324.3,364.9 324.8,365.1 325.3,365.3 325.8,365.5 326.3,365.7 326.8,365.9 327.3,366.1 327.8,366.5 328.3,366.8 328.8,367.2 329.3,367.5 329.8,367.9 330.3,368.2 330.8,368.4 331.3,367.8 331.8,367.1 332.3,366.5 332.8,365.9 333.3,365.3 333.8,364.6 334.3,364.3 334.8,364.1 335.3,363.9 335.8,363.7 336.3,363.4 336.8,363.2 337.3,363.0 337.8,362.8 338.3,362.8 338.8,362.9 339.3,363.1 339.8,363.3 340.3,363.4 340.8,363.6 341.3,363.8 341.8,364.0 342.3,364.1 342.8,364.3 343.3,364.1 343.8,363.4 344.3,362.7 344.8,362.0 345.3,361.3 345.8,360.6 346.3,359.9 346.8,359.2 347.3,358.5 347.8,358.2 348.3,357.9 348.8,357.6 349.3,357.4 349.8,357.1 350.3,356.8 350.8,356.5 351.3,356.2 351.8,355.3 352.3,354.3 352.8,353.3 353.3,352.3 353.8,351.3 354.3,350.3 354.8,349.5 355.3,349.3 355.8,349.2 356.3,349.1 356.8,348.9 357.3,348.8 357.8,348.7 358.3,348.6 358.8,348.6 359.3,348.6 359.8,348.6 360.3,348.6 360.8,348.6 361.3,348.6 361.8,348.5 362.3,348.4 362.8,348.2 363.3,348.1 363.8,348.0 364.3,347.9 364.8,347.6 365.3,346.6 365.8,345.7 366.3,344.7 366.8,343.7 367.3,342.7 367.8,341.8 368.3,340.8 368.8,340.2 369.3,340.0 369.8,339.8 370.3,339.5 370.8,339.2 371.3,339.0 371.8,338.8 372.3,338.5 372.8,338.2 373.3,337.8 373.8,337.3 374.3,336.8 374.8,336.3 375.3,335.1 375.8,333.4 376.3,331.8 376.8,330.1 377.3,328.5 377.8,326.8 378.3,325.1 378.8,323.5 379.3,321.8 379.8,320.2 380.3,318.8 380.8,317.5 381.3,316.3 381.8,315.1 382.3,313.9 382.8,312.7 383.3,311.5 383.8,310.2 384.3,309.3 384.8,308.8 385.3,308.3 385.8,307.8 386.3,307.3 386.8,307.0 387.3,307.1 387.8,307.2 388.3,307.3 388.8,307.4 389.3,307.5 389.8,307.6 390.3,307.7 390.8,307.8 391.3,307.8 391.8,308.2 392.3,308.8 392.8,309.5 393.3,310.1 393.8,310.8 394.3,311.1 394.8,311.0 395.3,310.8 395.8,310.6 396.3,310.5 396.8,310.3 397.3,310.1 397.8,309.9 398.3,309.8 398.8,309.6 399.3,309.7 399.8,310.1 400.3,310.5 400.8,311.0 401.3,311.4 401.8,311.8 402.3,312.2 402.8,312.7 403.3,313.1 403.8,313.5 404.3,313.9 404.8,314.2 405.3,314.4 405.8,314.7 406.3,315.0 406.8,315.3 407.3,315.6 407.8,315.9 408.3,316.1 408.8,316.4 409.3,316.7 409.8,317.0 410.3,317.5 410.8,318.0 411.3,318.5 411.8,319.0 412.3,319.4 412.8,319.9 413.3,320.4 413.8,320.9 414.3,321.3 414.8,321.6 415.3,321.9 415.8,322.2 416.3,322.5 416.8,322.8 417.3,323.1 417.8,323.4 418.3,323.6 418.8,323.7 419.3,323.8 419.8,323.9 420.3,324.0 420.8,324.1 421.3,324.2 421.8,324.3 422.3,324.4 422.8,324.4 423.3,324.3 423.8,323.9 424.3,323.5 424.8,323.1 425.3,322.6 425.8,322.2 426.3,321.8 426.8,321.4 427.3,320.9 427.8,320.5 428.3,320.1 428.8,319.7 429.3,319.2 429.8,318.8 430.3,318.5 430.8,318.1 431.3,317.8 431.8,317.5 432.3,317.1 432.8,316.8 433.3,316.5 433.8,316.1 434.3,315.8 434.8,315.1 435.3,314.5 435.8,313.8 436.3,313.1 436.8,312.4 437.3,311.8 437.8,311.1 438.3,310.4 438.8,310.6 439.3,311.0 439.8,311.4 440.3,311.9 440.8,312.2 441.3,312.5 441.8,312.8 442.3,313.1 442.8,313.4 443.3,313.2 443.8,312.8 444.3,312.4 444.8,312.0 445.3,311.5 445.8,311.1 446.3,310.7 446.8,311.0 447.3,311.9 447.8,312.7 448.3,313.6 448.8,314.4 449.3,315.3 449.8,315.6 450.3,315.5 450.8,315.5 451.3,315.5 451.8,315.5 452.3,315.4 452.8,314.7 453.3,312.9 453.8,311.1 454.3,309.3 454.8,307.5 455.3,305.9 455.8,305.1 456.3,304.2 456.8,303.4 457.3,302.5 457.8,301.7 458.3,300.9 458.8,300.1 459.3,299.4 459.8,298.6 460.3,297.9 460.8,297.1 461.3,296.4 461.8,295.6 462.3,294.9 462.8,294.2 463.3,293.5 463.8,292.9 464.3,292.2 464.8,291.5 465.3,290.8 465.8,290.4 466.3,290.1 466.8,289.7 467.3,289.3 467.8,288.9 468.3,287.7 468.8,286.6 469.3,285.4 469.8,284.2 470.3,283.1 470.8,282.0 471.3,280.9 471.8,279.8 472.3,278.7 472.8,276.9 473.3,274.6 473.8,272.3 474.3,269.9 474.8,265.1 475.3,258.5 475.8,252.8 476.3,250.6 476.8,248.3 477.3,246.0 477.8,243.7 478.3,242.3 478.8,241.5 479.3,240.7 479.8,239.9 480.3,239.1 480.8,238.3 481.3,237.6 481.8,236.8 482.3,235.8 482.8,234.8 483.3,233.8 483.8,232.8 484.3,231.8 484.8,230.8 485.3,230.5 485.8,230.6 486.3,230.8 486.8,230.9 487.3,231.1 487.8,231.9 488.3,232.8 488.8,233.6 489.3,234.5 489.8,233.5 490.3,229.8 490.8,226.0 491.3,222.3 491.8,218.5 492.3,214.8 492.8,211.8 493.3,211.6 493.8,211.4 494.3,211.2 494.8,211.1 495.3,212.1 495.8,213.8 496.3,215.6 496.8,217.4 497.3,219.1 497.8,220.9 498.3,222.6 498.8,224.2 499.3,225.9 499.8,227.5 500.3,228.5 500.8,229.5 501.3,230.5 501.8,231.5 502.3,232.4 502.8,233.3 503.3,234.2 503.8,235.0 504.3,235.9 504.8,236.8 505.3,237.0 505.8,236.1 506.3,235.3 506.8,234.5 507.3,233.7 507.8,232.7 508.3,231.7 508.8,230.7 509.3,229.7 509.8,228.7 510.3,227.7 510.8,226.1 511.3,224.1 511.8,222.0 512.3,220.0 512.8,218.0 513.3,216.3 513.8,214.5 514.3,212.8 514.8,211.1 515.3,209.4 515.8,207.6 516.3,203.3 516.8,198.3 517.3,193.3 517.8,188.3 518.3,185.1 518.8,184.8 519.3,184.4 519.8,184.0 520.3,183.6 520.8,183.3 521.3,182.9 521.8,181.1 522.3,179.1 522.8,177.0 523.3,174.9 523.8,172.8 524.3,170.8 524.8,168.7 525.3,168.7 525.8,168.7 526.3,168.7 526.8,168.7 527.3,168.7 527.8,168.7 528.3,169.0 528.8,169.8 529.3,170.5 529.8,171.3 530.3,172.0 530.8,172.8 531.3,173.5 531.8,175.4 532.3,177.6 532.8,179.7 533.3,181.9 533.8,184.1 534.3,185.1 534.8,185.9 535.3,186.8 535.8,187.6 536.3,188.4 536.8,189.2 537.3,190.0 537.8,190.8 538.3,190.7 538.8,190.1 539.3,189.5 539.8,188.9 540.3,188.2 540.8,187.6 541.3,187.0 541.8,187.0 542.3,187.0 542.8,187.7 543.3,188.8 543.8,190.0 544.3,191.1 544.8,192.2 545.3,193.4 545.8,194.5 546.3,195.3 546.8,196.0 547.3,196.8 547.8,197.5 548.3,198.3 548.8,199.0 549.3,199.0 549.8,197.7 550.3,196.5 550.8,195.2 551.3,194.0 551.8,192.7 552.3,191.5 552.8,190.0 553.3,188.5 553.8,187.0 554.3,185.4 554.8,183.9 555.3,182.4 555.8,181.2 556.3,181.3 556.8,181.5 557.3,181.6 557.8,181.7 558.3,181.8 558.8,181.9 559.3,182.8 559.8,184.7 560.3,186.5 560.8,188.4 561.3,190.3 561.8,192.2 562.3,194.1 562.8,196.1 563.3,198.1 563.8,200.0 564.3,202.0 564.8,204.0 565.3,204.3 565.8,204.3 566.3,204.2 566.8,204.1 567.3,204.0 567.8,203.9 568.3,203.8 568.8,203.8 569.3,203.7 569.8,203.6 570.3,202.7 570.8,201.8 571.3,200.9 571.8,200.0 572.3,199.1 572.8,198.1 573.3,197.2 573.8,196.3 574.3,195.4 574.8,194.5 575.3,194.3 575.8,194.1 576.3,193.8 576.8,193.6 577.3,193.4 577.8,193.2 578.3,193.0 578.8,192.7 579.3,192.5 579.8,192.3 580.3,192.1 580.8,191.9 581.3,191.6 581.8,191.4 582.3,191.2 582.8,189.9 583.3,188.7 583.8,187.4 584.3,186.2 584.8,184.9 585.3,183.7 585.8,182.5 586.3,181.5 586.8,180.5 587.3,179.5 587.8,178.5 588.3,177.7 588.8,177.3 589.3,176.9 589.8,176.5 590.3,176.1 590.8,175.7 591.3,175.3 591.8,174.9 592.3,174.4 592.8,173.4 593.3,172.4 593.8,171.4 594.3,170.5 594.8,169.5 595.3,168.5 595.8,167.6 596.3,166.7 596.8,165.8 597.3,165.0 597.8,164.1 598.3,163.2 598.8,163.3 599.3,164.0 599.8,164.7 600.3,165.3 600.8,166.0 601.3,166.7 601.8,167.4 602.3,166.6 602.8,163.6 603.3,160.6 603.8,157.6 604.3,154.6 604.8,151.6 605.3,148.6 605.8,145.6 606.3,142.7 606.8,139.7 607.3,137.9 607.8,137.7 608.3,137.6 608.8,137.5 609.3,137.4 609.8,137.2 610.3,137.1 610.8,135.1 611.3,132.7 611.8,130.3 612.3,128.9 612.8,129.0 613.3,129.2 613.8,129.3 614.3,129.5 614.8,130.2 615.3,131.7 615.8,133.1 616.3,134.6 616.8,137.7 617.3,140.8 617.8,143.9 618.3,145.0 618.8,145.7 619.3,146.3 619.8,147.0 620.3,147.7 620.8,149.3 621.3,151.1 621.8,153.0 622.3,154.8 622.8,156.6 623.3,158.5 623.8,160.4 624.3,162.3 624.8,164.1 625.3,166.0 625.8,167.9 626.3,169.8 626.8,171.8 627.3,173.8 627.8,175.8 628.3,177.8 628.8,179.2 629.3,178.5 629.8,177.7 630.3,177.0 630.8,176.2 631.3,175.5 631.8,174.7 632.3,174.2 632.8,173.9 633.3,173.6 633.8,173.3 634.3,173.0 634.8,172.7 635.3,172.4 635.8,172.1 636.3,171.7 636.8,170.8 637.3,170.0 637.8,169.1 638.3,168.2 638.8,167.3 639.3,166.5 639.8,165.9 640.3,165.7 640.8,165.4 641.3,165.2 641.8,164.9 642.3,164.7 642.8,164.4 643.3,164.5 643.8,164.7 644.3,164.8 644.8,164.9 645.3,165.1 645.8,165.2 646.3,165.1 646.8,164.6 647.3,164.1 647.8,163.6 648.3,163.1 648.8,162.5 649.3,161.6 649.8,160.8 650.3,159.9 650.8,159.1 651.3,157.7 651.8,155.6 652.3,153.5 652.8,151.3 653.3,149.2 653.8,147.1 654.3,144.9 654.8,144.3 655.3,144.1 655.8,143.8 656.3,143.6 656.8,143.3 657.3,143.1 657.8,143.1 658.3,143.9 658.8,144.7 659.3,145.5 659.8,146.3 660.3,147.4 660.8,149.6 661.3,151.9 661.8,154.1 662.3,155.0 662.8,155.7 663.3,156.3 663.8,157.0 664.3,157.7 664.6,164.0 664.6,164.0 664.3,162.7 663.8,162.7 663.3,162.7 662.8,162.7 662.3,162.7 661.8,162.4 661.3,161.0 660.8,159.6 660.3,158.2 659.8,156.8 659.3,155.5 658.8,154.1 658.3,153.8 657.8,154.3 657.3,154.8 656.8,155.3 656.3,155.8 655.8,156.3 655.3,156.8 654.8,157.5 654.3,158.3 653.8,159.2 653.3,160.0 652.8,160.8 652.3,161.6 651.8,162.4 651.3,163.2 650.8,164.4 650.3,165.9 649.8,167.4 649.3,169.0 648.8,170.5 648.3,172.0 647.8,173.5 647.3,174.3 646.8,175.1 646.3,176.0 645.8,176.8 645.3,177.6 644.8,177.2 644.3,176.8 643.8,176.5 643.3,176.1 642.8,175.7 642.3,175.3 641.8,175.5 641.3,176.5 640.8,177.5 640.3,178.5 639.8,179.5 639.3,180.5 638.8,181.5 638.3,182.8 637.8,184.1 637.3,185.5 636.8,186.8 636.3,188.1 635.8,188.2 635.3,187.9 634.8,187.7 634.3,187.4 633.8,187.2 633.3,186.9 632.8,186.7 632.3,187.7 631.8,188.7 631.3,189.7 630.8,190.8 630.3,191.8 629.8,192.8 629.3,192.6 628.8,190.5 628.3,188.4 627.8,186.2 627.3,183.5 626.8,180.9 626.3,178.3 625.8,175.6 625.3,173.1 624.8,171.1 624.3,169.1 623.8,167.1 623.3,165.1 622.8,163.3 622.3,162.4 621.8,161.5 621.3,160.6 620.8,159.7 620.3,158.9 619.8,158.0 619.3,157.1 618.8,156.2 618.3,155.6 617.8,155.1 617.3,154.6 616.8,154.1 616.3,153.6 615.8,153.1 615.3,152.5 614.8,151.7 614.3,150.9 613.8,150.1 613.3,149.3 612.8,148.7 612.3,149.2 611.8,149.7 611.3,150.2 610.8,150.7 610.3,151.2 609.8,151.7 609.3,152.5 608.8,153.5 608.3,154.5 607.8,155.5 607.3,156.6 606.8,157.6 606.3,158.6 605.8,159.6 605.3,161.0 604.8,163.0 604.3,164.9 603.8,166.9 603.3,168.9 602.8,170.9 602.3,172.8 601.8,174.8 601.3,176.8 600.8,176.8 600.3,176.8 599.8,176.8 599.3,176.8 598.8,176.8 598.3,176.8 597.8,177.3 597.3,178.7 596.8,180.0 596.3,181.3 595.8,182.4 595.3,183.5 594.8,184.6 594.3,185.7 593.8,186.7 593.3,187.8 592.8,188.9 592.3,190.0 591.8,190.6 591.3,191.1 590.8,191.6 590.3,192.1 589.8,192.6 589.3,193.1 588.8,193.6 588.3,194.1 587.8,194.6 587.3,195.1 586.8,195.6 586.3,196.2 585.8,196.7 585.3,197.2 584.8,197.7 584.3,198.2 583.8,198.7 583.3,199.2 582.8,199.7 582.3,200.2 581.8,200.7 581.3,201.2 580.8,201.7 580.3,202.2 579.8,202.7 579.3,203.2 578.8,203.8 578.3,204.6 577.8,205.4 577.3,206.2 576.8,207.0 576.3,207.7 575.8,208.5 575.3,209.3 574.8,210.1 574.3,211.4 573.8,212.8 573.3,214.1 572.8,215.5 572.3,216.8 571.8,216.6 571.3,216.4 570.8,216.2 570.3,216.0 569.8,215.8 569.3,215.6 568.8,215.3 568.3,215.1 567.8,215.7 567.3,216.5 566.8,217.2 566.3,218.0 565.8,218.7 565.3,219.5 564.8,220.0 564.3,219.2 563.8,218.5 563.3,217.7 562.8,217.0 562.3,216.3 561.8,215.5 561.3,214.7 560.8,213.7 560.3,212.7 559.8,211.7 559.3,210.7 558.8,209.7 558.3,208.7 557.8,208.0 557.3,207.3 556.8,206.6 556.3,205.9 555.8,205.2 555.3,204.5 554.8,203.9 554.3,203.2 553.8,202.5 553.3,201.8 552.8,203.2 552.3,204.6 551.8,206.0 551.3,207.4 550.8,208.8 550.3,210.2 549.8,211.6 549.3,212.9 548.8,213.1 548.3,212.5 547.8,211.9 547.3,211.3 546.8,210.7 546.3,210.1 545.8,209.5 545.3,208.9 544.8,208.2 544.3,207.3 543.8,206.5 543.3,205.6 542.8,204.8 542.3,204.5 541.8,204.9 541.3,205.4 540.8,205.8 540.3,206.3 539.8,206.7 539.3,207.6 538.8,208.6 538.3,209.6 537.8,210.6 537.3,211.6 536.8,212.6 536.3,213.3 535.8,213.0 535.3,212.7 534.8,212.3 534.3,212.0 533.8,211.0 533.3,207.6 532.8,204.2 532.3,200.8 531.8,199.6 531.3,198.9 530.8,198.3 530.3,197.6 529.8,196.9 529.3,196.1 528.8,195.1 528.3,194.2 527.8,193.3 527.3,192.4 526.8,191.4 526.3,190.8 525.8,191.2 525.3,191.6 524.8,192.1 524.3,192.5 523.8,192.9 523.3,193.3 522.8,194.3 522.3,195.5 521.8,196.8 521.3,198.0 520.8,199.3 520.3,200.5 519.8,201.8 519.3,204.0 518.8,206.1 518.3,208.3 517.8,210.4 517.3,212.8 516.8,215.7 516.3,218.5 515.8,221.3 515.3,224.1 514.8,226.3 514.3,228.3 513.8,230.3 513.3,232.3 512.8,234.3 512.3,236.3 511.8,238.3 511.3,240.3 510.8,242.3 510.3,244.3 509.8,246.3 509.3,248.3 508.8,250.4 508.3,252.8 507.8,255.1 507.3,257.5 506.8,259.8 506.3,259.9 505.8,259.4 505.3,258.9 504.8,257.3 504.3,254.9 503.8,252.6 503.3,250.2 502.8,247.9 502.3,247.7 501.8,247.5 501.3,247.3 500.8,247.1 500.3,246.9 499.8,246.7 499.3,246.6 498.8,246.3 498.3,246.0 497.8,245.6 497.3,245.3 496.8,244.9 496.3,244.5 495.8,244.0 495.3,243.5 494.8,243.0 494.3,242.5 493.8,242.0 493.3,242.5 492.8,244.5 492.3,246.6 491.8,248.6 491.3,250.6 490.8,250.8 490.3,250.6 489.8,250.3 489.3,250.1 488.8,249.8 488.3,249.6 487.8,249.3 487.3,249.0 486.8,248.7 486.3,248.4 485.8,248.1 485.3,247.8 484.8,247.5 484.3,247.2 483.8,248.0 483.3,249.1 482.8,250.3 482.3,251.4 481.8,252.5 481.3,253.6 480.8,256.1 480.3,259.4 479.8,262.7 479.3,266.2 478.8,269.6 478.3,272.4 477.8,274.1 477.3,275.8 476.8,277.6 476.3,279.3 475.8,281.0 475.3,285.0 474.8,288.9 474.3,292.9 473.8,296.9 473.3,298.2 472.8,299.6 472.3,300.9 471.8,302.2 471.3,303.5 470.8,304.8 470.3,306.2 469.8,307.5 469.3,305.5 468.8,303.6 468.3,301.6 467.8,299.6 467.3,300.2 466.8,300.9 466.3,301.5 465.8,302.1 465.3,302.8 464.8,303.4 464.3,304.0 463.8,304.6 463.3,305.2 462.8,305.8 462.3,306.4 461.8,306.9 461.3,307.2 460.8,307.4 460.3,307.7 459.8,307.9 459.3,308.2 458.8,308.4 458.3,308.7 457.8,309.1 457.3,310.3 456.8,311.5 456.3,312.7 455.8,313.9 455.3,315.1 454.8,316.3 454.3,317.1 453.8,317.5 453.3,317.9 452.8,318.3 452.3,318.8 451.8,319.2 451.3,319.6 450.8,319.8 450.3,319.9 449.8,320.1 449.3,320.2 448.8,320.3 448.3,320.4 447.8,320.6 447.3,320.7 446.8,320.9 446.3,321.1 445.8,321.3 445.3,321.4 444.8,321.6 444.3,321.8 443.8,322.0 443.3,322.2 442.8,321.5 442.3,320.8 441.8,320.2 441.3,319.5 440.8,318.8 440.3,318.2 439.8,317.5 439.3,316.8 438.8,317.2 438.3,317.5 437.8,317.9 437.3,318.2 436.8,318.6 436.3,319.0 435.8,319.3 435.3,319.7 434.8,320.3 434.3,320.9 433.8,321.5 433.3,322.2 432.8,322.8 432.3,323.4 431.8,324.6 431.3,326.0 430.8,327.4 430.3,328.8 429.8,330.2 429.3,330.4 428.8,330.7 428.3,330.9 427.8,331.2 427.3,331.4 426.8,331.7 426.3,331.9 425.8,332.2 425.3,332.4 424.8,332.7 424.3,332.9 423.8,333.2 423.3,333.4 422.8,333.7 422.3,333.9 421.8,334.2 421.3,334.4 420.8,334.7 420.3,334.9 419.8,335.2 419.3,335.4 418.8,335.7 418.3,335.9 417.8,336.0 417.3,336.1 416.8,336.2 416.3,336.3 415.8,336.4 415.3,336.5 414.8,336.5 414.3,336.6 413.8,336.7 413.3,336.8 412.8,335.7 412.3,334.4 411.8,333.1 411.3,331.7 410.8,330.4 410.3,329.1 409.8,327.8 409.3,326.4 408.8,325.1 408.3,323.8 407.8,323.1 407.3,322.6 406.8,322.1 406.3,321.6 405.8,321.1 405.3,320.6 404.8,320.1 404.3,319.6 403.8,319.1 403.3,318.6 402.8,318.1 402.3,317.6 401.8,317.1 401.3,316.6 400.8,316.1 400.3,315.6 399.8,315.2 399.3,315.3 398.8,315.3 398.3,315.4 397.8,315.5 397.3,315.6 396.8,315.6 396.3,315.7 395.8,315.8 395.3,315.8 394.8,315.9 394.3,316.0 393.8,316.0 393.3,316.1 392.8,315.8 392.3,315.6 391.8,315.3 391.3,315.1 390.8,314.8 390.3,314.6 389.8,314.3 389.3,314.1 388.8,313.8 388.3,313.6 387.8,314.0 387.3,314.4 386.8,314.8 386.3,315.2 385.8,315.6 385.3,316.0 384.8,316.3 384.3,316.7 383.8,318.3 383.3,320.6 382.8,322.9 382.3,325.3 381.8,327.6 381.3,329.6 380.8,331.3 380.3,333.1 379.8,334.8 379.3,336.6 378.8,338.3 378.3,340.1 377.8,341.1 377.3,342.1 376.8,343.1 376.3,344.1 375.8,345.1 375.3,346.1 374.8,346.8 374.3,347.2 373.8,347.5 373.3,347.8 372.8,348.2 372.3,348.5 371.8,348.8 371.3,349.1 370.8,349.5 370.3,349.8 369.8,350.1 369.3,350.5 368.8,350.8 368.3,351.1 367.8,351.5 367.3,351.8 366.8,352.1 366.3,352.4 365.8,352.8 365.3,353.1 364.8,353.4 364.3,353.7 363.8,353.9 363.3,354.2 362.8,354.4 362.3,354.7 361.8,354.9 361.3,355.2 360.8,355.5 360.3,355.8 359.8,356.1 359.3,356.4 358.8,356.7 358.3,357.0 357.8,357.2 357.3,357.5 356.8,357.8 356.3,358.0 355.8,358.2 355.3,358.4 354.8,358.6 354.3,358.8 353.8,359.0 353.3,359.2 352.8,359.4 352.3,359.7 351.8,359.9 351.3,360.2 350.8,360.4 350.3,360.7 349.8,360.9 349.3,361.2 348.8,361.4 348.3,361.7 347.8,362.2 347.3,362.8 346.8,363.3 346.3,363.9 345.8,364.5 345.3,365.1 344.8,365.7 344.3,366.3 343.8,366.8 343.3,366.9 342.8,367.0 342.3,367.1 341.8,367.2 341.3,367.3 340.8,367.4 340.3,367.5 339.8,367.6 339.3,367.7 338.8,367.8 338.3,367.9 337.8,368.0 337.3,368.1 336.8,368.2 336.3,368.3 335.8,368.4 335.3,368.9 334.8,369.8 334.3,370.7 333.8,371.6 333.3,372.4 332.8,373.3 332.3,374.2 331.8,373.7 331.3,373.2 330.8,372.7 330.3,372.2 329.8,371.7 329.3,371.2 328.8,370.7 328.3,370.3 327.8,370.0 327.3,369.6 326.8,369.2 326.3,368.8 325.8,368.4 325.3,368.0 324.8,367.6 324.3,367.4 323.8,367.3 323.3,367.1 322.8,366.9 322.3,366.7 321.8,366.6 321.3,366.4 320.8,366.2 320.3,366.0 319.8,365.9 319.3,366.2 318.8,366.4 318.3,366.7 317.8,366.9 317.3,367.2 316.8,367.4 316.3,367.6 315.8,367.4 315.3,367.3 314.8,367.2 314.3,367.1 313.8,366.9 313.3,366.8 312.8,366.9 312.3,367.0 311.8,367.1 311.3,367.3 310.8,367.4 310.3,367.5 309.8,367.7 309.3,368.3 308.8,369.0 308.3,369.6 307.8,370.2 307.3,370.8 306.8,371.5 306.3,371.6 305.8,371.3 305.3,371.1 304.8,370.8 304.3,370.6 303.8,370.3 303.3,370.1 302.8,365.9 302.3,361.7 301.8,357.4 301.3,353.2 300.8,352.2 300.3,356.0 299.8,359.8 299.3,363.6 298.8,366.1 298.3,367.8 297.8,369.4 297.3,371.1 296.8,372.7 296.3,365.3 295.8,351.8 295.3,341.2 294.8,334.9 294.3,328.6 293.8,323.4 293.3,322.8 292.8,322.1 292.3,321.5 291.8,320.9 291.3,320.3 290.8,319.7 290.3,319.3 289.8,319.1 289.3,319.0 288.8,318.9 288.3,318.8 287.8,318.6 287.3,318.5 286.8,316.9 286.3,314.9 285.8,312.9 285.3,310.9 284.8,308.9 284.3,307.9 283.8,307.2 283.3,306.4 282.8,305.7 282.3,304.9 281.8,304.2 281.3,303.6 280.8,303.6 280.3,303.6 279.8,303.6 279.3,303.6 278.8,303.6 278.3,303.6 277.8,303.6 277.3,303.6 276.8,304.3 276.3,305.0 275.8,305.8 275.3,306.5 274.8,307.2 274.3,307.9 273.8,308.5 273.3,308.3 272.8,308.1 272.3,307.9 271.8,307.7 271.3,307.5 270.8,307.3 270.3,307.1 269.8,306.9 269.3,307.3 268.8,307.7 268.3,308.0 267.8,308.4 267.3,308.8 266.8,309.2 266.3,309.5 265.8,309.8 265.3,310.2 264.8,310.5 264.3,310.8 263.8,311.7 263.3,313.3 262.8,315.0 262.3,316.6 261.8,318.3 261.3,319.3 260.8,319.3 260.3,319.3 259.8,319.3 259.3,319.3 258.8,318.7 258.3,317.2 257.8,315.7 257.3,314.3 256.8,312.8 256.3,312.6 255.8,314.2 255.3,315.9 254.8,317.5 254.3,319.2 253.8,320.3 253.3,320.5 252.8,320.8 252.3,321.0 251.8,321.3 251.3,321.5 250.8,321.8 250.3,321.5 249.8,321.1 249.3,320.7 248.8,320.4 248.3,320.0 247.8,319.6 247.3,318.9 246.8,316.7 246.3,314.5 245.8,312.4 245.3,310.2 244.8,308.1 244.3,306.1 243.8,304.1 243.3,302.2 242.8,300.2 242.3,298.3 241.8,297.0 241.3,295.7 240.8,294.4 240.3,293.1 239.8,292.1 239.3,292.6 238.8,293.1 238.3,293.5 237.8,294.0 237.3,294.3 236.8,294.0 236.3,293.8 235.8,293.5 235.3,293.2 234.8,292.9 234.3,292.6 233.8,292.3 233.3,292.0 232.8,291.3 232.3,290.6 231.8,289.9 231.3,289.2 230.8,288.5 230.3,287.2 229.8,285.7 229.3,284.2 228.8,282.7 228.3,281.2 227.8,279.7 227.3,278.1 226.8,276.5 226.3,274.9 225.8,273.3 225.3,271.7 224.8,270.1 224.3,269.2 223.8,268.4 223.3,267.5 222.8,266.7 222.3,265.8 221.8,265.0 221.3,264.3 220.8,264.4 220.3,264.6 219.8,264.7 219.3,264.8 218.8,264.9 218.3,265.1 217.8,265.6 217.3,266.5 216.8,267.4 216.3,268.3 215.8,269.1 215.3,270.0 214.8,270.9 214.3,270.8 213.8,270.7 213.3,270.5 212.8,270.4 212.3,270.3 211.8,270.2 211.3,269.3 210.8,267.3 210.3,265.3 209.8,263.2 209.3,261.2 208.8,259.2 208.3,257.2 207.8,256.9 207.3,257.0 206.8,257.1 206.3,257.2 205.8,257.3 205.3,257.4 204.8,257.4 204.3,257.5 203.8,257.6 203.3,257.5 202.8,257.4 202.3,257.3 201.8,257.2 201.3,257.1 200.8,257.0 200.3,256.9 199.8,256.9 199.3,257.1 198.8,257.4 198.3,257.6 197.8,257.9 197.3,258.1 196.8,258.4 196.3,258.7 195.8,259.2 195.3,259.7 194.8,260.2 194.3,260.7 193.8,259.9 193.3,258.2 192.8,256.5 192.3,254.9 191.8,253.9 191.3,252.9 190.8,251.9 190.3,250.9 189.8,249.9 189.3,248.9 188.8,248.0 188.3,247.3 187.8,246.5 187.3,245.8 186.8,245.0 186.3,244.3 185.8,243.5 185.3,241.8 184.8,240.2 184.3,238.5 183.8,236.9 183.3,235.2 182.8,234.9 182.3,234.7 181.8,234.4 181.3,234.2 180.8,233.9 180.3,233.7 179.8,233.4 179.3,233.2 178.8,232.9 178.3,232.7 177.8,232.8 177.3,233.0 176.8,233.1 176.3,233.2 175.8,233.4 175.3,233.5 174.8,233.7 174.3,234.1 173.8,234.4 173.3,234.7 172.8,235.1 172.3,235.4 171.8,235.7 171.3,236.0 170.8,236.4 170.3,236.7 169.8,237.2 169.3,238.0 168.8,238.8 168.3,239.6 167.8,240.4 167.3,241.2 166.8,242.1 166.3,242.8 165.8,243.4 165.3,244.1 164.8,244.7 164.3,245.3 163.8,245.9 163.3,246.5 162.8,247.0 162.3,247.1 161.8,247.3 161.3,247.5 160.8,247.6 160.3,247.6 159.8,247.3 159.3,247.1 158.8,246.8 158.3,246.6 157.8,246.3 157.3,246.1 156.8,245.9 156.3,245.8 155.8,245.7 155.3,245.5 154.8,245.4 154.3,245.3 153.8,245.3 153.3,245.7 152.8,246.0 152.3,246.4 151.8,246.8 151.3,247.2 150.8,247.5 150.3,247.6 149.8,247.5 149.3,247.4 148.8,247.3 148.3,247.1 147.8,247.0 147.3,246.9 146.8,246.8 146.3,246.6 145.8,246.5 145.3,246.4 144.8,246.2 144.3,246.1 143.8,246.4 143.3,247.4 142.8,248.4 142.3,249.4 141.8,250.4 141.3,250.7 140.8,249.9 140.3,249.0 139.8,248.2 139.3,247.4 138.8,246.7 138.3,246.4 137.8,246.0 137.3,245.6 136.8,245.2 136.3,244.9 135.8,244.5 135.3,244.6 134.8,244.8 134.3,245.1 133.8,245.3 133.3,245.6 132.8,245.8 132.3,246.2 131.8,247.2 131.3,248.2 130.8,249.2 130.3,250.2 129.8,251.1 129.3,251.4 128.8,251.7 128.3,252.1 127.8,252.4 127.3,252.6 126.8,252.1 126.3,251.6 125.8,251.1 125.3,250.6 124.8,250.1 124.3,249.6 123.8,249.1 123.3,248.6 122.8,248.4 122.3,248.3 121.8,248.2 121.3,248.1 120.8,248.0 120.3,247.9 119.8,247.8 119.3,247.7 118.8,248.1 118.3,248.7 117.8,249.3 117.3,249.9 116.8,250.6 116.3,251.2 115.8,251.8 115.3,253.1 114.8,254.5 114.3,255.8 113.8,257.2 113.3,258.5 112.8,259.7 112.3,260.9 111.8,262.0 111.3,263.2 110.8,264.4 110.3,265.6 109.8,266.8 109.3,267.9 108.8,268.7 108.3,269.1 107.8,269.6 107.3,270.0 106.8,270.5 106.3,270.9" fill="#a5a5a5" stroke="#a5a5a5" stroke-width="0.6" stroke-linejoin="round"/><polyline points="107.0,271.0 109.0,260.0 111.0,255.3 113.0,252.0 114.7,248.5 116.3,244.3 118.0,241.0 119.7,242.0 121.3,242.7 123.0,243.0 124.7,244.5 126.3,247.0 128.0,251.0 129.7,246.9 131.3,240.3 133.0,236.0 135.0,233.9 137.0,234.7 139.0,232.0 141.0,250.0 143.0,244.4 145.0,239.0 147.0,242.6 149.0,244.3 151.0,247.0 153.0,244.4 155.0,240.0 157.0,238.0 158.7,241.4 160.3,245.0 162.0,247.0 163.7,243.4 165.3,240.3 167.0,236.0 169.0,232.8 171.0,227.4 173.0,225.0 175.0,228.7 177.0,231.0 180.0,225.0 182.0,228.9 184.0,231.8 186.0,236.0 188.0,239.7 190.0,246.0 191.7,251.7 193.3,255.3 195.0,260.0 198.0,250.0 199.7,252.3 201.3,254.4 203.0,255.0 204.7,253.9 206.3,252.8 208.0,250.0 211.0,257.0 213.6,271.0 215.8,265.2 218.0,260.0 220.0,262.8 222.0,263.8 224.0,266.0 226.3,274.7 228.7,281.0 230.8,286.1 233.0,289.0 235.0,289.4 237.0,292.0 239.2,288.5 241.5,287.0 243.2,290.2 245.0,295.0 247.3,313.0 249.7,317.3 252.0,319.0 255.0,299.0 257.0,308.3 259.0,318.0 261.2,311.9 263.5,305.0 265.8,299.9 268.0,296.0 269.6,299.9 271.2,303.3 272.8,307.5 274.7,303.6 276.7,300.7 278.6,297.0 280.7,299.2 282.9,302.1 285.0,303.0 286.7,307.8 288.3,312.9 290.0,316.0 293.0,315.6 295.7,335.0 297.0,370.0 298.7,356.0 300.4,340.0 302.7,360.0 304.9,365.4 307.0,368.0 309.0,366.8 311.0,363.7 313.0,363.0 314.7,361.0 316.3,358.3 318.0,354.0 320.0,365.6 322.0,366.2 324.0,364.7 326.0,364.0 327.8,366.7 329.5,367.4 331.2,371.3 333.0,372.5 335.0,364.0 336.8,365.0 338.5,364.9 340.2,365.0 342.0,367.0 344.0,365.2 346.0,362.8 348.0,358.6 349.6,355.5 351.2,355.6 352.8,352.6 354.4,349.9 356.0,349.0 357.7,349.8 359.3,352.4 361.0,353.0 362.9,352.7 364.7,349.1 366.6,349.0 368.8,344.8 371.0,340.0 373.0,338.1 375.0,339.3 377.0,338.0 379.0,330.9 381.0,325.7 383.0,318.0 385.0,314.1 387.0,307.6 388.9,308.4 390.9,310.6 392.8,310.0 394.7,309.5 396.7,308.8 398.6,310.0 400.3,312.3 402.1,312.7 403.8,315.2 405.5,318.0 407.3,319.3 409.2,321.4 411.0,322.7 413.0,327.4 415.0,334.0 416.9,332.4 418.7,334.4 420.6,333.0 422.5,331.4 424.5,332.1 426.4,329.7 428.7,331.5 431.0,331.0 432.8,324.7 434.6,319.0 436.8,315.4 439.0,312.0 440.7,314.4 442.3,317.1 444.0,319.0 446.0,310.0 447.9,318.8 449.7,327.0 451.9,323.2 454.0,319.0 455.9,313.0 457.8,306.4 461.0,302.0 462.7,302.4 464.3,300.4 466.0,299.5 467.7,302.8 469.4,306.4 471.7,290.0 473.4,284.1 475.0,277.0 477.5,268.0 480.6,244.0 482.5,238.6 484.5,234.1 486.4,230.0 488.7,240.6 491.0,248.6 492.8,229.4 494.6,210.0 496.3,218.4 498.0,226.5 500.4,229.2 502.7,234.7 504.4,246.6 506.0,259.0 508.0,249.6 510.0,238.3 512.0,230.0 513.6,221.0 515.2,211.8 516.8,200.9 518.4,193.2 520.0,183.6 522.0,178.5 524.0,174.0 526.0,168.5 528.2,182.6 530.5,197.5 532.3,203.1 534.2,208.2 536.0,212.6 538.0,203.1 540.0,195.0 542.0,188.0 544.0,198.2 546.0,208.6 548.0,217.0 549.6,208.7 551.2,201.7 552.8,194.5 554.4,186.1 556.0,179.0 557.6,195.6 559.2,213.0 561.1,214.8 563.1,217.3 565.0,220.0 566.6,212.8 568.3,205.0 570.0,209.4 571.7,215.0 573.4,205.5 575.0,196.7 576.9,196.9 578.9,194.2 580.8,195.0 582.9,193.7 585.0,192.0 586.7,191.3 588.3,188.8 590.0,188.0 591.7,181.2 593.3,176.9 595.0,170.0 596.6,165.9 598.3,163.3 600.8,173.3 602.5,164.9 604.2,158.3 606.7,148.3 608.3,137.5 610.4,132.7 612.5,128.3 614.1,131.4 615.8,133.3 615.0,150.0 616.6,147.2 618.3,146.7 620.8,155.0 623.3,158.3 625.8,168.3 628.3,190.0 630.0,183.7 631.7,178.3 633.8,175.3 635.8,173.3 638.3,186.7 640.8,165.0 642.9,165.9 645.0,165.0 645.8,176.7 648.3,163.3 650.0,162.3 651.7,161.7 654.2,151.7 655.9,148.5 657.5,143.3 659.1,144.9 660.8,148.3 662.5,161.7" fill="none" stroke="#a5a5a5" stroke-width="5.4" stroke-linejoin="round" stroke-linecap="round"/></svg>
<div class="t l" style="left:-14px;top:61.0px">115.0000</div>
<div class="t l" style="left:-14px;top:116.3px">110.0000</div>
<div class="t l" style="left:-14px;top:171.7px">105.0000</div>
<div class="t l" style="left:-14px;top:227.0px">100.0000</div>
<div class="t l" style="left:-14px;top:282.3px">95.0000</div>
<div class="t l" style="left:-14px;top:337.7px">90.0000</div>
<div class="t l" style="left:-14px;top:393.0px">85.0000</div>
<div class="t r" style="left:681px;top:61.0px">6.0000</div>
<div class="t r" style="left:681px;top:116.3px">5.0000</div>
<div class="t r" style="left:681px;top:171.7px">4.0000</div>
<div class="t r" style="left:681px;top:227.0px">3.0000</div>
<div class="t r" style="left:681px;top:282.3px">2.0000</div>
<div class="t r" style="left:681px;top:337.7px">1.0000</div>
<div class="t r" style="left:681px;top:393.0px">0.0000</div>
<div class="t x" style="left:56.0px;top:417px">2018-01</div>
<div class="t x" style="left:144.0px;top:417px">2019-01</div>
<div class="t x" style="left:231.0px;top:417px">2020-01</div>
<div class="t x" style="left:318.0px;top:417px">2021-01</div>
<div class="t x" style="left:406.0px;top:417px">2022-01</div>
<div class="t x" style="left:493.0px;top:417px">2023-01</div>
<div class="t x" style="left:580.0px;top:417px">2024-01</div>
<div class="lg" style="left:212px;top:19.8px">美元指数</div>
<div class="lg" style="left:363px;top:19.8px">美国:国债收益率:10年(右轴)</div>
</div></body></html>
